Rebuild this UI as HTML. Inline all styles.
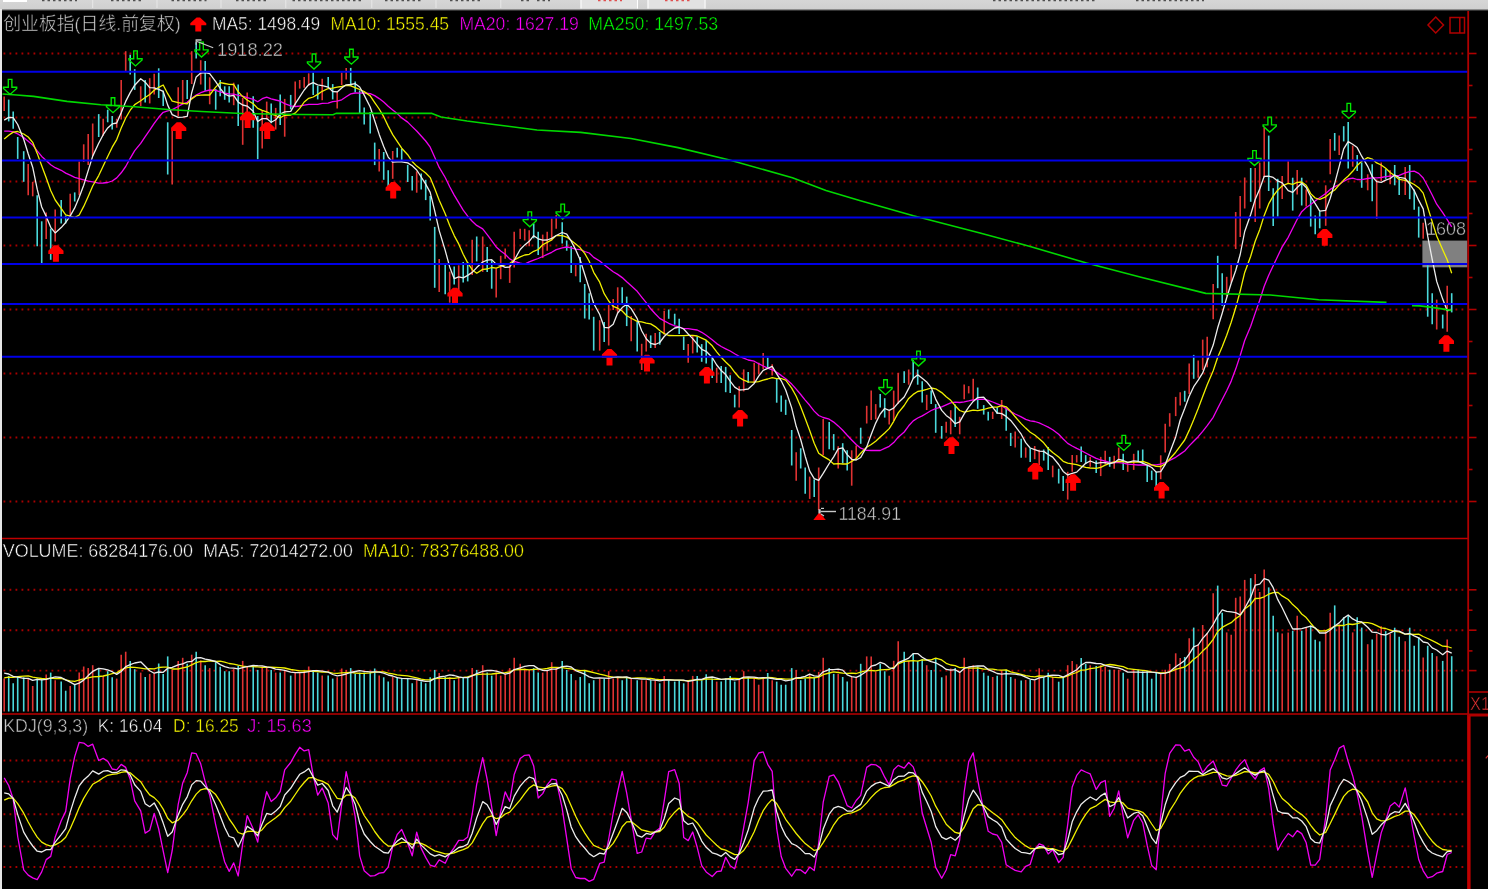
<!DOCTYPE html>
<html><head><meta charset="utf-8"><title>创业板指</title><style>html,body{margin:0;padding:0;background:#000;overflow:hidden}svg{display:block}svg text{stroke:#000;stroke-width:.45px}</style></head><body>
<svg width="1488" height="889" viewBox="0 0 1488 889">
<rect x="0" y="0" width="1488" height="889" fill="#000"/>
<defs><linearGradient id="tb" x1="0" y1="0" x2="0" y2="1"><stop offset="0" stop-color="#d6d6d6"/><stop offset="0.78" stop-color="#d0d0d0"/><stop offset="0.9" stop-color="#707070"/><stop offset="1" stop-color="#000"/></linearGradient></defs>
<rect x="0" y="0" width="1488" height="11" fill="url(#tb)"/>
<rect x="580.5" y="0" width="57.5" height="8.5" fill="#e2e2e2"/><line x1="581" y1="0" x2="581" y2="8.5" stroke="#fff" stroke-width="1"/><line x1="637.5" y1="0" x2="637.5" y2="8.5" stroke="#fff" stroke-width="1"/>
<rect x="647.5" y="0" width="58" height="8.5" fill="#e2e2e2"/><line x1="648" y1="0" x2="648" y2="8.5" stroke="#fff" stroke-width="1"/><line x1="705" y1="0" x2="705" y2="8.5" stroke="#fff" stroke-width="1"/>
<rect x="3" y="0" width="24" height="2" fill="#fff"/>
<line x1="42" y1="0.6" x2="77" y2="0.6" stroke="#505050" stroke-width="1.3" stroke-dasharray="2.5 3"/>
<line x1="111" y1="0.6" x2="141" y2="0.6" stroke="#505050" stroke-width="1.3" stroke-dasharray="2.5 3"/>
<line x1="171.5" y1="0.6" x2="206.5" y2="0.6" stroke="#505050" stroke-width="1.3" stroke-dasharray="2.5 3"/>
<line x1="236" y1="0.6" x2="268" y2="0.6" stroke="#505050" stroke-width="1.3" stroke-dasharray="2.5 3"/>
<line x1="292.5" y1="0.6" x2="362" y2="0.6" stroke="#505050" stroke-width="1.3" stroke-dasharray="2.5 3"/>
<line x1="385" y1="0.6" x2="421.5" y2="0.6" stroke="#505050" stroke-width="1.3" stroke-dasharray="2.5 3"/>
<line x1="450" y1="0.6" x2="483" y2="0.6" stroke="#505050" stroke-width="1.3" stroke-dasharray="2.5 3"/>
<line x1="521" y1="0.6" x2="529" y2="0.6" stroke="#505050" stroke-width="1.3" stroke-dasharray="2.5 3"/>
<line x1="537" y1="0.6" x2="550" y2="0.6" stroke="#505050" stroke-width="1.3" stroke-dasharray="2.5 3"/>
<line x1="993" y1="0.6" x2="1095" y2="0.6" stroke="#505050" stroke-width="1.3" stroke-dasharray="2.5 3"/>
<line x1="1136" y1="0.6" x2="1204" y2="0.6" stroke="#505050" stroke-width="1.3" stroke-dasharray="2.5 3"/>
<line x1="598" y1="0.6" x2="622" y2="0.6" stroke="#e05050" stroke-width="1.3" stroke-dasharray="2.5 3"/>
<line x1="665" y1="0.6" x2="690" y2="0.6" stroke="#e05050" stroke-width="1.3" stroke-dasharray="2.5 3"/>
<line x1="92.7" y1="0" x2="92.7" y2="8" stroke="#e8e8e8" stroke-width="1"/>
<line x1="157" y1="0" x2="157" y2="8" stroke="#e8e8e8" stroke-width="1"/>
<line x1="221" y1="0" x2="221" y2="8" stroke="#e8e8e8" stroke-width="1"/>
<line x1="285.8" y1="0" x2="285.8" y2="8" stroke="#e8e8e8" stroke-width="1"/>
<line x1="371.8" y1="0" x2="371.8" y2="8" stroke="#e8e8e8" stroke-width="1"/>
<line x1="436" y1="0" x2="436" y2="8" stroke="#e8e8e8" stroke-width="1"/>
<line x1="500.8" y1="0" x2="500.8" y2="8" stroke="#e8e8e8" stroke-width="1"/>
<rect x="0" y="9" width="2" height="880" fill="#e6e6e6"/>
<line x1="3.5" y1="53.5" x2="1466" y2="53.5" stroke="#a80000" stroke-width="1.9" stroke-dasharray="1.8 4.2"/>
<line x1="3.5" y1="117.5" x2="1466" y2="117.5" stroke="#a80000" stroke-width="1.9" stroke-dasharray="1.8 4.2"/>
<line x1="3.5" y1="181.5" x2="1466" y2="181.5" stroke="#a80000" stroke-width="1.9" stroke-dasharray="1.8 4.2"/>
<line x1="3.5" y1="245.5" x2="1466" y2="245.5" stroke="#a80000" stroke-width="1.9" stroke-dasharray="1.8 4.2"/>
<line x1="3.5" y1="309.5" x2="1466" y2="309.5" stroke="#a80000" stroke-width="1.9" stroke-dasharray="1.8 4.2"/>
<line x1="3.5" y1="373.5" x2="1466" y2="373.5" stroke="#a80000" stroke-width="1.9" stroke-dasharray="1.8 4.2"/>
<line x1="3.5" y1="437.5" x2="1466" y2="437.5" stroke="#a80000" stroke-width="1.9" stroke-dasharray="1.8 4.2"/>
<line x1="3.5" y1="501.5" x2="1466" y2="501.5" stroke="#a80000" stroke-width="1.9" stroke-dasharray="1.8 4.2"/>
<line x1="3.5" y1="589.8" x2="1466" y2="589.8" stroke="#a80000" stroke-width="1.9" stroke-dasharray="1.8 4.2"/>
<line x1="3.5" y1="630.2" x2="1466" y2="630.2" stroke="#a80000" stroke-width="1.9" stroke-dasharray="1.8 4.2"/>
<line x1="3.5" y1="670.6" x2="1466" y2="670.6" stroke="#a80000" stroke-width="1.9" stroke-dasharray="1.8 4.2"/>
<line x1="3.5" y1="760.5" x2="1466" y2="760.5" stroke="#a80000" stroke-width="1.9" stroke-dasharray="1.8 4.2"/>
<line x1="3.5" y1="781.6" x2="1466" y2="781.6" stroke="#a80000" stroke-width="1.9" stroke-dasharray="1.8 4.2"/>
<line x1="3.5" y1="814.3" x2="1466" y2="814.3" stroke="#a80000" stroke-width="1.9" stroke-dasharray="1.8 4.2"/>
<line x1="3.5" y1="846.4" x2="1466" y2="846.4" stroke="#a80000" stroke-width="1.9" stroke-dasharray="1.8 4.2"/>
<line x1="3.5" y1="867.0" x2="1466" y2="867.0" stroke="#a80000" stroke-width="1.9" stroke-dasharray="1.8 4.2"/>
<rect x="1422.4" y="240.6" width="45" height="26.7" fill="#808080"/>
<text x="1426" y="234.6" fill="#c0c0c0" font-family="Liberation Sans, sans-serif" font-size="18.5" textLength="40" lengthAdjust="spacingAndGlyphs">1608</text>
<line x1="4.20" y1="96.4" x2="4.20" y2="111.0" stroke="#e03232" stroke-width="1.6"/>
<line x1="8.70" y1="99.6" x2="8.70" y2="121.4" stroke="#4ad8da" stroke-width="1.6"/>
<line x1="13.20" y1="111.6" x2="13.20" y2="128.7" stroke="#4ad8da" stroke-width="1.6"/>
<line x1="17.70" y1="137.0" x2="17.70" y2="158.9" stroke="#4ad8da" stroke-width="1.6"/>
<line x1="23.70" y1="151.2" x2="23.70" y2="181.8" stroke="#4ad8da" stroke-width="1.6"/>
<line x1="28.20" y1="164.0" x2="28.20" y2="195.3" stroke="#e03232" stroke-width="1.6"/>
<line x1="32.70" y1="181.8" x2="32.70" y2="196.3" stroke="#e03232" stroke-width="1.6"/>
<line x1="37.20" y1="195.3" x2="37.20" y2="246.3" stroke="#4ad8da" stroke-width="1.6"/>
<line x1="41.70" y1="221.3" x2="41.70" y2="263.0" stroke="#4ad8da" stroke-width="1.6"/>
<line x1="46.20" y1="212.4" x2="46.20" y2="239.0" stroke="#e03232" stroke-width="1.6"/>
<line x1="50.70" y1="228.6" x2="50.70" y2="259.8" stroke="#4ad8da" stroke-width="1.6"/>
<line x1="55.20" y1="209.5" x2="55.20" y2="241.5" stroke="#e03232" stroke-width="1.6"/>
<line x1="61.20" y1="200.0" x2="61.20" y2="223.4" stroke="#4ad8da" stroke-width="1.6"/>
<line x1="65.70" y1="215.7" x2="65.70" y2="223.4" stroke="#4ad8da" stroke-width="1.6"/>
<line x1="70.20" y1="193.8" x2="70.20" y2="216.0" stroke="#e03232" stroke-width="1.6"/>
<line x1="74.70" y1="192.4" x2="74.70" y2="201.5" stroke="#4ad8da" stroke-width="1.6"/>
<line x1="79.20" y1="161.4" x2="79.20" y2="195.3" stroke="#e03232" stroke-width="1.6"/>
<line x1="83.70" y1="144.3" x2="83.70" y2="162.0" stroke="#e03232" stroke-width="1.6"/>
<line x1="88.20" y1="134.0" x2="88.20" y2="165.0" stroke="#e03232" stroke-width="1.6"/>
<line x1="92.70" y1="123.5" x2="92.70" y2="155.8" stroke="#e03232" stroke-width="1.6"/>
<line x1="98.70" y1="114.1" x2="98.70" y2="137.0" stroke="#4ad8da" stroke-width="1.6"/>
<line x1="103.20" y1="118.7" x2="103.20" y2="135.8" stroke="#e03232" stroke-width="1.6"/>
<line x1="107.70" y1="109.7" x2="107.70" y2="122.3" stroke="#4ad8da" stroke-width="1.6"/>
<line x1="112.20" y1="116.0" x2="112.20" y2="129.5" stroke="#4ad8da" stroke-width="1.6"/>
<line x1="116.70" y1="118.7" x2="116.70" y2="127.7" stroke="#e03232" stroke-width="1.6"/>
<line x1="121.20" y1="80.0" x2="121.20" y2="119.6" stroke="#e03232" stroke-width="1.6"/>
<line x1="125.70" y1="51.2" x2="125.70" y2="71.0" stroke="#e03232" stroke-width="1.6"/>
<line x1="130.20" y1="54.8" x2="130.20" y2="74.6" stroke="#4ad8da" stroke-width="1.6"/>
<line x1="134.70" y1="69.2" x2="134.70" y2="89.9" stroke="#4ad8da" stroke-width="1.6"/>
<line x1="140.70" y1="86.3" x2="140.70" y2="106.1" stroke="#e03232" stroke-width="1.6"/>
<line x1="145.20" y1="80.0" x2="145.20" y2="102.5" stroke="#4ad8da" stroke-width="1.6"/>
<line x1="149.70" y1="78.2" x2="149.70" y2="103.4" stroke="#e03232" stroke-width="1.6"/>
<line x1="154.20" y1="73.7" x2="154.20" y2="94.4" stroke="#e03232" stroke-width="1.6"/>
<line x1="158.70" y1="68.3" x2="158.70" y2="98.0" stroke="#4ad8da" stroke-width="1.6"/>
<line x1="163.20" y1="90.8" x2="163.20" y2="106.1" stroke="#4ad8da" stroke-width="1.6"/>
<line x1="167.70" y1="122.3" x2="167.70" y2="174.5" stroke="#4ad8da" stroke-width="1.6"/>
<line x1="172.20" y1="130.4" x2="172.20" y2="184.4" stroke="#e03232" stroke-width="1.6"/>
<line x1="178.20" y1="87.2" x2="178.20" y2="116.0" stroke="#e03232" stroke-width="1.6"/>
<line x1="182.70" y1="80.0" x2="182.70" y2="104.3" stroke="#e03232" stroke-width="1.6"/>
<line x1="187.20" y1="80.0" x2="187.20" y2="98.9" stroke="#4ad8da" stroke-width="1.6"/>
<line x1="191.70" y1="51.2" x2="191.70" y2="84.0" stroke="#e03232" stroke-width="1.6"/>
<line x1="196.20" y1="42.2" x2="196.20" y2="58.4" stroke="#4ad8da" stroke-width="1.6"/>
<line x1="200.70" y1="60.2" x2="200.70" y2="84.5" stroke="#e03232" stroke-width="1.6"/>
<line x1="205.20" y1="61.1" x2="205.20" y2="90.8" stroke="#4ad8da" stroke-width="1.6"/>
<line x1="209.70" y1="77.3" x2="209.70" y2="104.3" stroke="#e03232" stroke-width="1.6"/>
<line x1="215.70" y1="89.0" x2="215.70" y2="109.7" stroke="#4ad8da" stroke-width="1.6"/>
<line x1="220.20" y1="80.0" x2="220.20" y2="96.2" stroke="#4ad8da" stroke-width="1.6"/>
<line x1="224.70" y1="86.3" x2="224.70" y2="99.8" stroke="#4ad8da" stroke-width="1.6"/>
<line x1="229.20" y1="86.3" x2="229.20" y2="102.5" stroke="#4ad8da" stroke-width="1.6"/>
<line x1="233.70" y1="82.7" x2="233.70" y2="105.2" stroke="#e03232" stroke-width="1.6"/>
<line x1="238.20" y1="84.5" x2="238.20" y2="125.9" stroke="#4ad8da" stroke-width="1.6"/>
<line x1="242.70" y1="98.0" x2="242.70" y2="144.8" stroke="#e03232" stroke-width="1.6"/>
<line x1="247.20" y1="92.6" x2="247.20" y2="119.6" stroke="#e03232" stroke-width="1.6"/>
<line x1="253.20" y1="96.2" x2="253.20" y2="127.7" stroke="#4ad8da" stroke-width="1.6"/>
<line x1="257.70" y1="116.0" x2="257.70" y2="159.2" stroke="#4ad8da" stroke-width="1.6"/>
<line x1="262.20" y1="110.6" x2="262.20" y2="148.4" stroke="#e03232" stroke-width="1.6"/>
<line x1="266.70" y1="101.6" x2="266.70" y2="119.6" stroke="#e03232" stroke-width="1.6"/>
<line x1="271.20" y1="103.4" x2="271.20" y2="123.2" stroke="#4ad8da" stroke-width="1.6"/>
<line x1="275.70" y1="107.9" x2="275.70" y2="129.5" stroke="#e03232" stroke-width="1.6"/>
<line x1="280.20" y1="94.4" x2="280.20" y2="125.0" stroke="#4ad8da" stroke-width="1.6"/>
<line x1="284.70" y1="98.9" x2="284.70" y2="136.7" stroke="#e03232" stroke-width="1.6"/>
<line x1="290.70" y1="94.9" x2="290.70" y2="109.3" stroke="#4ad8da" stroke-width="1.6"/>
<line x1="295.20" y1="81.4" x2="295.20" y2="105.7" stroke="#e03232" stroke-width="1.6"/>
<line x1="299.70" y1="80.0" x2="299.70" y2="88.6" stroke="#e03232" stroke-width="1.6"/>
<line x1="304.20" y1="76.9" x2="304.20" y2="87.7" stroke="#e03232" stroke-width="1.6"/>
<line x1="308.70" y1="73.3" x2="308.70" y2="85.9" stroke="#e03232" stroke-width="1.6"/>
<line x1="313.20" y1="72.4" x2="313.20" y2="94.9" stroke="#4ad8da" stroke-width="1.6"/>
<line x1="317.70" y1="85.9" x2="317.70" y2="99.4" stroke="#4ad8da" stroke-width="1.6"/>
<line x1="322.20" y1="78.7" x2="322.20" y2="100.3" stroke="#e03232" stroke-width="1.6"/>
<line x1="328.20" y1="76.9" x2="328.20" y2="87.7" stroke="#4ad8da" stroke-width="1.6"/>
<line x1="332.70" y1="84.1" x2="332.70" y2="99.4" stroke="#4ad8da" stroke-width="1.6"/>
<line x1="337.20" y1="91.3" x2="337.20" y2="108.4" stroke="#e03232" stroke-width="1.6"/>
<line x1="341.70" y1="72.4" x2="341.70" y2="85.0" stroke="#e03232" stroke-width="1.6"/>
<line x1="346.20" y1="67.9" x2="346.20" y2="79.6" stroke="#e03232" stroke-width="1.6"/>
<line x1="350.70" y1="67.9" x2="350.70" y2="85.9" stroke="#4ad8da" stroke-width="1.6"/>
<line x1="355.20" y1="81.4" x2="355.20" y2="92.2" stroke="#4ad8da" stroke-width="1.6"/>
<line x1="359.70" y1="90.4" x2="359.70" y2="113.8" stroke="#4ad8da" stroke-width="1.6"/>
<line x1="364.20" y1="107.5" x2="364.20" y2="124.6" stroke="#4ad8da" stroke-width="1.6"/>
<line x1="370.20" y1="112.0" x2="370.20" y2="133.6" stroke="#4ad8da" stroke-width="1.6"/>
<line x1="374.70" y1="142.6" x2="374.70" y2="165.1" stroke="#4ad8da" stroke-width="1.6"/>
<line x1="379.20" y1="148.9" x2="379.20" y2="171.4" stroke="#e03232" stroke-width="1.6"/>
<line x1="383.70" y1="152.0" x2="383.70" y2="179.8" stroke="#4ad8da" stroke-width="1.6"/>
<line x1="388.20" y1="170.2" x2="388.20" y2="186.3" stroke="#4ad8da" stroke-width="1.6"/>
<line x1="392.70" y1="151.0" x2="392.70" y2="178.8" stroke="#e03232" stroke-width="1.6"/>
<line x1="397.20" y1="147.8" x2="397.20" y2="157.4" stroke="#4ad8da" stroke-width="1.6"/>
<line x1="401.70" y1="148.9" x2="401.70" y2="161.7" stroke="#4ad8da" stroke-width="1.6"/>
<line x1="407.70" y1="164.9" x2="407.70" y2="182.0" stroke="#4ad8da" stroke-width="1.6"/>
<line x1="412.20" y1="176.0" x2="412.20" y2="190.5" stroke="#4ad8da" stroke-width="1.6"/>
<line x1="416.70" y1="171.3" x2="416.70" y2="192.7" stroke="#e03232" stroke-width="1.6"/>
<line x1="421.20" y1="173.4" x2="421.20" y2="189.5" stroke="#4ad8da" stroke-width="1.6"/>
<line x1="425.70" y1="179.8" x2="425.70" y2="200.1" stroke="#4ad8da" stroke-width="1.6"/>
<line x1="430.20" y1="195.9" x2="430.20" y2="220.4" stroke="#4ad8da" stroke-width="1.6"/>
<line x1="434.70" y1="226.9" x2="434.70" y2="287.8" stroke="#4ad8da" stroke-width="1.6"/>
<line x1="439.20" y1="258.9" x2="439.20" y2="292.0" stroke="#e03232" stroke-width="1.6"/>
<line x1="445.20" y1="264.3" x2="445.20" y2="294.2" stroke="#4ad8da" stroke-width="1.6"/>
<line x1="449.70" y1="271.7" x2="449.70" y2="302.7" stroke="#e03232" stroke-width="1.6"/>
<line x1="454.20" y1="266.4" x2="454.20" y2="284.6" stroke="#4ad8da" stroke-width="1.6"/>
<line x1="458.70" y1="265.3" x2="458.70" y2="291.0" stroke="#e03232" stroke-width="1.6"/>
<line x1="463.20" y1="262.1" x2="463.20" y2="282.4" stroke="#4ad8da" stroke-width="1.6"/>
<line x1="467.70" y1="262.1" x2="467.70" y2="281.4" stroke="#4ad8da" stroke-width="1.6"/>
<line x1="472.20" y1="239.7" x2="472.20" y2="275.0" stroke="#e03232" stroke-width="1.6"/>
<line x1="476.70" y1="236.5" x2="476.70" y2="261.4" stroke="#4ad8da" stroke-width="1.6"/>
<line x1="482.70" y1="236.5" x2="482.70" y2="271.9" stroke="#e03232" stroke-width="1.6"/>
<line x1="487.20" y1="247.0" x2="487.20" y2="271.9" stroke="#4ad8da" stroke-width="1.6"/>
<line x1="491.70" y1="260.2" x2="491.70" y2="288.7" stroke="#4ad8da" stroke-width="1.6"/>
<line x1="496.20" y1="268.2" x2="496.20" y2="297.5" stroke="#e03232" stroke-width="1.6"/>
<line x1="500.70" y1="255.8" x2="500.70" y2="279.2" stroke="#e03232" stroke-width="1.6"/>
<line x1="505.20" y1="248.5" x2="505.20" y2="258.7" stroke="#e03232" stroke-width="1.6"/>
<line x1="509.70" y1="263.9" x2="509.70" y2="282.9" stroke="#e03232" stroke-width="1.6"/>
<line x1="514.20" y1="231.7" x2="514.20" y2="267.5" stroke="#e03232" stroke-width="1.6"/>
<line x1="520.20" y1="228.8" x2="520.20" y2="239.0" stroke="#e03232" stroke-width="1.6"/>
<line x1="524.70" y1="228.8" x2="524.70" y2="240.5" stroke="#e03232" stroke-width="1.6"/>
<line x1="529.20" y1="230.2" x2="529.20" y2="246.3" stroke="#e03232" stroke-width="1.6"/>
<line x1="533.70" y1="223.6" x2="533.70" y2="238.3" stroke="#4ad8da" stroke-width="1.6"/>
<line x1="538.20" y1="231.7" x2="538.20" y2="255.1" stroke="#4ad8da" stroke-width="1.6"/>
<line x1="542.70" y1="234.6" x2="542.70" y2="258.0" stroke="#e03232" stroke-width="1.6"/>
<line x1="547.20" y1="231.7" x2="547.20" y2="250.7" stroke="#e03232" stroke-width="1.6"/>
<line x1="551.70" y1="218.5" x2="551.70" y2="240.5" stroke="#e03232" stroke-width="1.6"/>
<line x1="556.20" y1="214.9" x2="556.20" y2="228.8" stroke="#e03232" stroke-width="1.6"/>
<line x1="562.20" y1="222.2" x2="562.20" y2="243.4" stroke="#4ad8da" stroke-width="1.6"/>
<line x1="566.70" y1="240.5" x2="566.70" y2="250.7" stroke="#4ad8da" stroke-width="1.6"/>
<line x1="571.20" y1="246.0" x2="571.20" y2="273.0" stroke="#4ad8da" stroke-width="1.6"/>
<line x1="575.70" y1="264.5" x2="575.70" y2="276.3" stroke="#e03232" stroke-width="1.6"/>
<line x1="580.20" y1="257.0" x2="580.20" y2="282.2" stroke="#4ad8da" stroke-width="1.6"/>
<line x1="584.70" y1="284.0" x2="584.70" y2="318.5" stroke="#4ad8da" stroke-width="1.6"/>
<line x1="589.20" y1="293.2" x2="589.20" y2="319.4" stroke="#4ad8da" stroke-width="1.6"/>
<line x1="593.70" y1="316.8" x2="593.70" y2="350.6" stroke="#4ad8da" stroke-width="1.6"/>
<line x1="599.70" y1="320.2" x2="599.70" y2="350.6" stroke="#e03232" stroke-width="1.6"/>
<line x1="604.20" y1="321.9" x2="604.20" y2="342.1" stroke="#4ad8da" stroke-width="1.6"/>
<line x1="608.70" y1="305.0" x2="608.70" y2="345.5" stroke="#e03232" stroke-width="1.6"/>
<line x1="613.20" y1="299.1" x2="613.20" y2="310.0" stroke="#e03232" stroke-width="1.6"/>
<line x1="617.70" y1="287.3" x2="617.70" y2="312.6" stroke="#e03232" stroke-width="1.6"/>
<line x1="622.20" y1="287.3" x2="622.20" y2="304.2" stroke="#4ad8da" stroke-width="1.6"/>
<line x1="626.70" y1="296.6" x2="626.70" y2="326.1" stroke="#4ad8da" stroke-width="1.6"/>
<line x1="631.20" y1="316.0" x2="631.20" y2="341.3" stroke="#e03232" stroke-width="1.6"/>
<line x1="637.20" y1="321.9" x2="637.20" y2="351.4" stroke="#4ad8da" stroke-width="1.6"/>
<line x1="641.70" y1="343.8" x2="641.70" y2="370.0" stroke="#e03232" stroke-width="1.6"/>
<line x1="646.20" y1="333.7" x2="646.20" y2="351.4" stroke="#e03232" stroke-width="1.6"/>
<line x1="650.70" y1="335.4" x2="650.70" y2="348.0" stroke="#4ad8da" stroke-width="1.6"/>
<line x1="655.20" y1="332.9" x2="655.20" y2="348.0" stroke="#e03232" stroke-width="1.6"/>
<line x1="659.70" y1="332.0" x2="659.70" y2="344.7" stroke="#4ad8da" stroke-width="1.6"/>
<line x1="664.20" y1="310.9" x2="664.20" y2="334.5" stroke="#e03232" stroke-width="1.6"/>
<line x1="668.70" y1="309.5" x2="668.70" y2="318.8" stroke="#4ad8da" stroke-width="1.6"/>
<line x1="674.70" y1="313.7" x2="674.70" y2="324.7" stroke="#4ad8da" stroke-width="1.6"/>
<line x1="679.20" y1="318.8" x2="679.20" y2="334.0" stroke="#4ad8da" stroke-width="1.6"/>
<line x1="683.70" y1="336.5" x2="683.70" y2="350.0" stroke="#4ad8da" stroke-width="1.6"/>
<line x1="688.20" y1="344.1" x2="688.20" y2="362.7" stroke="#e03232" stroke-width="1.6"/>
<line x1="692.70" y1="335.7" x2="692.70" y2="353.4" stroke="#e03232" stroke-width="1.6"/>
<line x1="697.20" y1="336.5" x2="697.20" y2="352.5" stroke="#4ad8da" stroke-width="1.6"/>
<line x1="701.70" y1="344.1" x2="701.70" y2="361.8" stroke="#4ad8da" stroke-width="1.6"/>
<line x1="706.20" y1="339.9" x2="706.20" y2="363.5" stroke="#4ad8da" stroke-width="1.6"/>
<line x1="712.20" y1="355.9" x2="712.20" y2="377.9" stroke="#4ad8da" stroke-width="1.6"/>
<line x1="716.70" y1="367.7" x2="716.70" y2="382.9" stroke="#e03232" stroke-width="1.6"/>
<line x1="721.20" y1="366.0" x2="721.20" y2="382.9" stroke="#4ad8da" stroke-width="1.6"/>
<line x1="725.70" y1="366.9" x2="725.70" y2="392.2" stroke="#4ad8da" stroke-width="1.6"/>
<line x1="730.20" y1="375.3" x2="730.20" y2="393.0" stroke="#4ad8da" stroke-width="1.6"/>
<line x1="734.70" y1="394.7" x2="734.70" y2="407.4" stroke="#4ad8da" stroke-width="1.6"/>
<line x1="739.20" y1="386.3" x2="739.20" y2="407.4" stroke="#e03232" stroke-width="1.6"/>
<line x1="743.70" y1="369.4" x2="743.70" y2="391.4" stroke="#e03232" stroke-width="1.6"/>
<line x1="748.20" y1="372.0" x2="748.20" y2="382.9" stroke="#4ad8da" stroke-width="1.6"/>
<line x1="754.20" y1="362.7" x2="754.20" y2="382.9" stroke="#e03232" stroke-width="1.6"/>
<line x1="758.70" y1="362.7" x2="758.70" y2="374.5" stroke="#e03232" stroke-width="1.6"/>
<line x1="763.20" y1="353.1" x2="763.20" y2="369.3" stroke="#e03232" stroke-width="1.6"/>
<line x1="767.70" y1="357.6" x2="767.70" y2="368.3" stroke="#4ad8da" stroke-width="1.6"/>
<line x1="772.20" y1="364.2" x2="772.20" y2="375.4" stroke="#e03232" stroke-width="1.6"/>
<line x1="776.70" y1="378.4" x2="776.70" y2="402.7" stroke="#4ad8da" stroke-width="1.6"/>
<line x1="781.20" y1="395.6" x2="781.20" y2="411.8" stroke="#4ad8da" stroke-width="1.6"/>
<line x1="785.70" y1="399.7" x2="785.70" y2="414.9" stroke="#4ad8da" stroke-width="1.6"/>
<line x1="791.70" y1="430.0" x2="791.70" y2="465.5" stroke="#4ad8da" stroke-width="1.6"/>
<line x1="796.20" y1="452.3" x2="796.20" y2="480.7" stroke="#e03232" stroke-width="1.6"/>
<line x1="800.70" y1="448.3" x2="800.70" y2="468.5" stroke="#4ad8da" stroke-width="1.6"/>
<line x1="805.20" y1="467.5" x2="805.20" y2="493.8" stroke="#4ad8da" stroke-width="1.6"/>
<line x1="809.70" y1="476.6" x2="809.70" y2="498.9" stroke="#e03232" stroke-width="1.6"/>
<line x1="814.20" y1="479.6" x2="814.20" y2="496.9" stroke="#4ad8da" stroke-width="1.6"/>
<line x1="818.70" y1="467.5" x2="818.70" y2="510.0" stroke="#e03232" stroke-width="1.6"/>
<line x1="823.20" y1="418.9" x2="823.20" y2="455.3" stroke="#e03232" stroke-width="1.6"/>
<line x1="829.20" y1="421.9" x2="829.20" y2="449.3" stroke="#4ad8da" stroke-width="1.6"/>
<line x1="833.70" y1="434.1" x2="833.70" y2="450.3" stroke="#4ad8da" stroke-width="1.6"/>
<line x1="838.20" y1="446.2" x2="838.20" y2="468.5" stroke="#e03232" stroke-width="1.6"/>
<line x1="842.70" y1="443.2" x2="842.70" y2="463.4" stroke="#4ad8da" stroke-width="1.6"/>
<line x1="847.20" y1="450.3" x2="847.20" y2="470.5" stroke="#4ad8da" stroke-width="1.6"/>
<line x1="851.70" y1="450.3" x2="851.70" y2="485.7" stroke="#e03232" stroke-width="1.6"/>
<line x1="856.20" y1="445.4" x2="856.20" y2="459.0" stroke="#e03232" stroke-width="1.6"/>
<line x1="860.70" y1="427.7" x2="860.70" y2="443.8" stroke="#4ad8da" stroke-width="1.6"/>
<line x1="866.70" y1="405.8" x2="866.70" y2="423.5" stroke="#e03232" stroke-width="1.6"/>
<line x1="871.20" y1="390.6" x2="871.20" y2="420.1" stroke="#e03232" stroke-width="1.6"/>
<line x1="875.70" y1="404.1" x2="875.70" y2="419.3" stroke="#e03232" stroke-width="1.6"/>
<line x1="880.20" y1="394.0" x2="880.20" y2="407.5" stroke="#4ad8da" stroke-width="1.6"/>
<line x1="884.70" y1="398.2" x2="884.70" y2="417.6" stroke="#4ad8da" stroke-width="1.6"/>
<line x1="889.20" y1="410.9" x2="889.20" y2="424.4" stroke="#e03232" stroke-width="1.6"/>
<line x1="893.70" y1="390.6" x2="893.70" y2="421.0" stroke="#e03232" stroke-width="1.6"/>
<line x1="898.20" y1="372.9" x2="898.20" y2="404.1" stroke="#e03232" stroke-width="1.6"/>
<line x1="904.20" y1="371.2" x2="904.20" y2="383.0" stroke="#4ad8da" stroke-width="1.6"/>
<line x1="908.70" y1="369.5" x2="908.70" y2="384.7" stroke="#e03232" stroke-width="1.6"/>
<line x1="913.20" y1="360.2" x2="913.20" y2="378.8" stroke="#4ad8da" stroke-width="1.6"/>
<line x1="917.70" y1="369.5" x2="917.70" y2="384.7" stroke="#4ad8da" stroke-width="1.6"/>
<line x1="922.20" y1="381.3" x2="922.20" y2="402.4" stroke="#4ad8da" stroke-width="1.6"/>
<line x1="926.70" y1="394.8" x2="926.70" y2="410.0" stroke="#e03232" stroke-width="1.6"/>
<line x1="931.20" y1="390.6" x2="931.20" y2="404.1" stroke="#4ad8da" stroke-width="1.6"/>
<line x1="935.70" y1="404.1" x2="935.70" y2="432.8" stroke="#4ad8da" stroke-width="1.6"/>
<line x1="941.70" y1="426.0" x2="941.70" y2="438.7" stroke="#4ad8da" stroke-width="1.6"/>
<line x1="946.20" y1="421.8" x2="946.20" y2="432.8" stroke="#e03232" stroke-width="1.6"/>
<line x1="950.70" y1="410.2" x2="950.70" y2="434.3" stroke="#e03232" stroke-width="1.6"/>
<line x1="955.20" y1="404.4" x2="955.20" y2="427.0" stroke="#4ad8da" stroke-width="1.6"/>
<line x1="959.70" y1="416.8" x2="959.70" y2="434.3" stroke="#e03232" stroke-width="1.6"/>
<line x1="964.20" y1="384.6" x2="964.20" y2="399.2" stroke="#e03232" stroke-width="1.6"/>
<line x1="968.70" y1="386.1" x2="968.70" y2="393.4" stroke="#e03232" stroke-width="1.6"/>
<line x1="973.20" y1="378.8" x2="973.20" y2="400.7" stroke="#e03232" stroke-width="1.6"/>
<line x1="977.70" y1="387.5" x2="977.70" y2="408.8" stroke="#4ad8da" stroke-width="1.6"/>
<line x1="983.70" y1="405.1" x2="983.70" y2="414.6" stroke="#4ad8da" stroke-width="1.6"/>
<line x1="988.20" y1="411.7" x2="988.20" y2="420.5" stroke="#4ad8da" stroke-width="1.6"/>
<line x1="992.70" y1="411.7" x2="992.70" y2="419.0" stroke="#e03232" stroke-width="1.6"/>
<line x1="997.20" y1="407.3" x2="997.20" y2="413.9" stroke="#4ad8da" stroke-width="1.6"/>
<line x1="1001.70" y1="400.0" x2="1001.70" y2="419.0" stroke="#e03232" stroke-width="1.6"/>
<line x1="1006.20" y1="408.8" x2="1006.20" y2="430.7" stroke="#4ad8da" stroke-width="1.6"/>
<line x1="1010.70" y1="432.9" x2="1010.70" y2="446.0" stroke="#4ad8da" stroke-width="1.6"/>
<line x1="1015.20" y1="431.4" x2="1015.20" y2="447.5" stroke="#e03232" stroke-width="1.6"/>
<line x1="1021.20" y1="438.7" x2="1021.20" y2="457.7" stroke="#4ad8da" stroke-width="1.6"/>
<line x1="1025.70" y1="447.5" x2="1025.70" y2="457.7" stroke="#e03232" stroke-width="1.6"/>
<line x1="1030.20" y1="448.2" x2="1030.20" y2="462.1" stroke="#4ad8da" stroke-width="1.6"/>
<line x1="1034.70" y1="446.0" x2="1034.70" y2="459.2" stroke="#e03232" stroke-width="1.6"/>
<line x1="1039.20" y1="449.7" x2="1039.20" y2="465.1" stroke="#e03232" stroke-width="1.6"/>
<line x1="1043.70" y1="449.5" x2="1043.70" y2="460.6" stroke="#4ad8da" stroke-width="1.6"/>
<line x1="1048.20" y1="447.0" x2="1048.20" y2="469.9" stroke="#4ad8da" stroke-width="1.6"/>
<line x1="1052.70" y1="465.6" x2="1052.70" y2="477.3" stroke="#e03232" stroke-width="1.6"/>
<line x1="1058.70" y1="468.7" x2="1058.70" y2="483.5" stroke="#4ad8da" stroke-width="1.6"/>
<line x1="1063.20" y1="476.1" x2="1063.20" y2="490.9" stroke="#4ad8da" stroke-width="1.6"/>
<line x1="1067.70" y1="471.8" x2="1067.70" y2="499.6" stroke="#e03232" stroke-width="1.6"/>
<line x1="1072.20" y1="455.1" x2="1072.20" y2="471.8" stroke="#e03232" stroke-width="1.6"/>
<line x1="1076.70" y1="455.1" x2="1076.70" y2="462.5" stroke="#e03232" stroke-width="1.6"/>
<line x1="1081.20" y1="446.4" x2="1081.20" y2="461.9" stroke="#4ad8da" stroke-width="1.6"/>
<line x1="1085.70" y1="455.1" x2="1085.70" y2="463.7" stroke="#4ad8da" stroke-width="1.6"/>
<line x1="1090.20" y1="456.9" x2="1090.20" y2="466.8" stroke="#e03232" stroke-width="1.6"/>
<line x1="1096.20" y1="460.6" x2="1096.20" y2="473.0" stroke="#4ad8da" stroke-width="1.6"/>
<line x1="1100.70" y1="456.9" x2="1100.70" y2="476.1" stroke="#e03232" stroke-width="1.6"/>
<line x1="1105.20" y1="450.7" x2="1105.20" y2="464.3" stroke="#e03232" stroke-width="1.6"/>
<line x1="1109.70" y1="456.9" x2="1109.70" y2="466.8" stroke="#4ad8da" stroke-width="1.6"/>
<line x1="1114.20" y1="455.7" x2="1114.20" y2="468.7" stroke="#e03232" stroke-width="1.6"/>
<line x1="1118.70" y1="447.6" x2="1118.70" y2="460.6" stroke="#e03232" stroke-width="1.6"/>
<line x1="1123.20" y1="453.8" x2="1123.20" y2="469.9" stroke="#4ad8da" stroke-width="1.6"/>
<line x1="1127.70" y1="463.1" x2="1127.70" y2="471.8" stroke="#e03232" stroke-width="1.6"/>
<line x1="1133.70" y1="453.8" x2="1133.70" y2="469.9" stroke="#e03232" stroke-width="1.6"/>
<line x1="1138.20" y1="450.5" x2="1138.20" y2="462.0" stroke="#4ad8da" stroke-width="1.6"/>
<line x1="1142.70" y1="449.5" x2="1142.70" y2="463.9" stroke="#4ad8da" stroke-width="1.6"/>
<line x1="1147.20" y1="465.8" x2="1147.20" y2="482.0" stroke="#4ad8da" stroke-width="1.6"/>
<line x1="1151.70" y1="470.6" x2="1151.70" y2="480.1" stroke="#4ad8da" stroke-width="1.6"/>
<line x1="1156.20" y1="471.5" x2="1156.20" y2="486.8" stroke="#4ad8da" stroke-width="1.6"/>
<line x1="1160.70" y1="455.3" x2="1160.70" y2="479.2" stroke="#e03232" stroke-width="1.6"/>
<line x1="1165.20" y1="423.7" x2="1165.20" y2="452.4" stroke="#e03232" stroke-width="1.6"/>
<line x1="1169.70" y1="413.2" x2="1169.70" y2="426.6" stroke="#e03232" stroke-width="1.6"/>
<line x1="1175.70" y1="396.9" x2="1175.70" y2="416.1" stroke="#e03232" stroke-width="1.6"/>
<line x1="1180.20" y1="392.2" x2="1180.20" y2="405.5" stroke="#e03232" stroke-width="1.6"/>
<line x1="1184.70" y1="390.8" x2="1184.70" y2="401.7" stroke="#4ad8da" stroke-width="1.6"/>
<line x1="1189.20" y1="363.5" x2="1189.20" y2="394.1" stroke="#e03232" stroke-width="1.6"/>
<line x1="1193.70" y1="354.9" x2="1193.70" y2="378.8" stroke="#4ad8da" stroke-width="1.6"/>
<line x1="1198.20" y1="360.6" x2="1198.20" y2="377.8" stroke="#e03232" stroke-width="1.6"/>
<line x1="1202.70" y1="339.6" x2="1202.70" y2="370.2" stroke="#e03232" stroke-width="1.6"/>
<line x1="1207.20" y1="336.7" x2="1207.20" y2="367.3" stroke="#e03232" stroke-width="1.6"/>
<line x1="1213.20" y1="284.1" x2="1213.20" y2="319.2" stroke="#e03232" stroke-width="1.6"/>
<line x1="1217.70" y1="255.8" x2="1217.70" y2="288.2" stroke="#4ad8da" stroke-width="1.6"/>
<line x1="1222.20" y1="273.3" x2="1222.20" y2="305.7" stroke="#4ad8da" stroke-width="1.6"/>
<line x1="1226.70" y1="276.8" x2="1226.70" y2="296.3" stroke="#e03232" stroke-width="1.6"/>
<line x1="1231.20" y1="263.9" x2="1231.20" y2="282.8" stroke="#e03232" stroke-width="1.6"/>
<line x1="1235.70" y1="212.0" x2="1235.70" y2="249.0" stroke="#e03232" stroke-width="1.6"/>
<line x1="1240.20" y1="195.9" x2="1240.20" y2="236.9" stroke="#e03232" stroke-width="1.6"/>
<line x1="1244.70" y1="177.5" x2="1244.70" y2="208.5" stroke="#e03232" stroke-width="1.6"/>
<line x1="1250.70" y1="168.0" x2="1250.70" y2="201.8" stroke="#4ad8da" stroke-width="1.6"/>
<line x1="1255.20" y1="168.0" x2="1255.20" y2="222.0" stroke="#e03232" stroke-width="1.6"/>
<line x1="1259.70" y1="162.6" x2="1259.70" y2="208.5" stroke="#e03232" stroke-width="1.6"/>
<line x1="1264.20" y1="127.5" x2="1264.20" y2="177.5" stroke="#e03232" stroke-width="1.6"/>
<line x1="1268.70" y1="135.6" x2="1268.70" y2="191.0" stroke="#4ad8da" stroke-width="1.6"/>
<line x1="1273.20" y1="188.3" x2="1273.20" y2="226.1" stroke="#4ad8da" stroke-width="1.6"/>
<line x1="1277.70" y1="178.8" x2="1277.70" y2="216.6" stroke="#4ad8da" stroke-width="1.6"/>
<line x1="1282.20" y1="176.1" x2="1282.20" y2="199.1" stroke="#e03232" stroke-width="1.6"/>
<line x1="1288.20" y1="161.3" x2="1288.20" y2="182.9" stroke="#e03232" stroke-width="1.6"/>
<line x1="1292.70" y1="177.7" x2="1292.70" y2="210.6" stroke="#4ad8da" stroke-width="1.6"/>
<line x1="1297.20" y1="170.1" x2="1297.20" y2="194.5" stroke="#e03232" stroke-width="1.6"/>
<line x1="1301.70" y1="177.7" x2="1301.70" y2="205.5" stroke="#4ad8da" stroke-width="1.6"/>
<line x1="1306.20" y1="189.5" x2="1306.20" y2="206.4" stroke="#e03232" stroke-width="1.6"/>
<line x1="1310.70" y1="196.2" x2="1310.70" y2="226.6" stroke="#4ad8da" stroke-width="1.6"/>
<line x1="1315.20" y1="215.6" x2="1315.20" y2="234.2" stroke="#4ad8da" stroke-width="1.6"/>
<line x1="1319.70" y1="211.4" x2="1319.70" y2="228.3" stroke="#4ad8da" stroke-width="1.6"/>
<line x1="1325.70" y1="185.3" x2="1325.70" y2="225.8" stroke="#e03232" stroke-width="1.6"/>
<line x1="1330.20" y1="138.9" x2="1330.20" y2="174.3" stroke="#e03232" stroke-width="1.6"/>
<line x1="1334.70" y1="133.0" x2="1334.70" y2="150.7" stroke="#4ad8da" stroke-width="1.6"/>
<line x1="1339.20" y1="135.5" x2="1339.20" y2="154.9" stroke="#e03232" stroke-width="1.6"/>
<line x1="1343.70" y1="126.2" x2="1343.70" y2="141.4" stroke="#4ad8da" stroke-width="1.6"/>
<line x1="1348.20" y1="122.0" x2="1348.20" y2="168.4" stroke="#4ad8da" stroke-width="1.6"/>
<line x1="1352.70" y1="145.6" x2="1352.70" y2="166.7" stroke="#e03232" stroke-width="1.6"/>
<line x1="1357.20" y1="154.9" x2="1357.20" y2="170.9" stroke="#4ad8da" stroke-width="1.6"/>
<line x1="1361.70" y1="162.5" x2="1361.70" y2="187.8" stroke="#4ad8da" stroke-width="1.6"/>
<line x1="1367.70" y1="174.3" x2="1367.70" y2="190.3" stroke="#e03232" stroke-width="1.6"/>
<line x1="1372.20" y1="164.2" x2="1372.20" y2="201.3" stroke="#4ad8da" stroke-width="1.6"/>
<line x1="1376.70" y1="179.4" x2="1376.70" y2="219.0" stroke="#e03232" stroke-width="1.6"/>
<line x1="1381.20" y1="162.5" x2="1381.20" y2="181.1" stroke="#e03232" stroke-width="1.6"/>
<line x1="1385.70" y1="169.2" x2="1385.70" y2="178.9" stroke="#4ad8da" stroke-width="1.6"/>
<line x1="1390.20" y1="170.3" x2="1390.20" y2="184.2" stroke="#e03232" stroke-width="1.6"/>
<line x1="1394.70" y1="165.0" x2="1394.70" y2="185.3" stroke="#4ad8da" stroke-width="1.6"/>
<line x1="1399.20" y1="177.8" x2="1399.20" y2="194.9" stroke="#4ad8da" stroke-width="1.6"/>
<line x1="1405.20" y1="167.1" x2="1405.20" y2="194.9" stroke="#e03232" stroke-width="1.6"/>
<line x1="1409.70" y1="165.0" x2="1409.70" y2="199.2" stroke="#4ad8da" stroke-width="1.6"/>
<line x1="1414.20" y1="189.5" x2="1414.20" y2="209.8" stroke="#4ad8da" stroke-width="1.6"/>
<line x1="1418.70" y1="206.6" x2="1418.70" y2="237.6" stroke="#4ad8da" stroke-width="1.6"/>
<line x1="1423.20" y1="222.7" x2="1423.20" y2="238.7" stroke="#e03232" stroke-width="1.6"/>
<line x1="1427.70" y1="265.4" x2="1427.70" y2="316.7" stroke="#4ad8da" stroke-width="1.6"/>
<line x1="1432.20" y1="293.2" x2="1432.20" y2="324.2" stroke="#4ad8da" stroke-width="1.6"/>
<line x1="1436.70" y1="299.6" x2="1436.70" y2="329.5" stroke="#e03232" stroke-width="1.6"/>
<line x1="1442.70" y1="314.6" x2="1442.70" y2="328.5" stroke="#4ad8da" stroke-width="1.6"/>
<line x1="1447.20" y1="285.7" x2="1447.20" y2="331.7" stroke="#e03232" stroke-width="1.6"/>
<line x1="1451.70" y1="293.2" x2="1451.70" y2="312.4" stroke="#4ad8da" stroke-width="1.6"/>
<polyline points="4.2,131.1 8.7,131.2 13.2,131.8 17.7,133.9 23.7,137.5 28.2,141.2 32.7,145.0 37.2,150.9 41.7,156.4 46.2,160.6 50.7,164.8 55.2,167.7 61.2,170.3 65.7,173.1 70.2,175.1 74.7,177.3 79.2,178.7 83.7,179.9 88.2,181.2 92.7,181.9 98.7,183.1 103.2,183.0 107.7,182.5 112.2,181.0 116.7,177.9 121.2,172.8 125.7,166.5 130.2,158.3 134.7,150.6 140.7,143.4 145.2,136.6 149.7,130.2 154.2,123.4 158.7,117.3 163.2,112.3 167.7,110.9 172.2,109.6 178.2,106.5 182.7,103.9 187.2,102.3 191.7,98.2 196.2,95.1 200.7,92.7 205.2,91.1 209.7,90.0 215.7,90.4 220.2,91.8 224.7,93.1 229.2,93.8 233.7,94.2 238.2,95.4 242.7,96.2 247.2,97.6 253.2,99.3 257.7,101.7 262.2,98.7 266.7,97.2 271.2,98.8 275.7,100.0 280.2,101.2 284.7,103.6 290.7,105.8 295.2,106.6 299.7,106.0 304.2,105.2 308.7,104.4 313.2,104.4 317.7,104.3 322.2,103.4 328.2,103.2 332.7,101.7 337.2,101.1 341.7,99.8 346.2,96.8 350.7,93.9 355.2,93.0 359.7,93.2 364.2,93.0 370.2,93.6 374.7,95.6 379.2,98.6 383.7,102.0 388.2,106.3 392.7,109.9 397.2,113.6 401.7,117.9 407.7,122.1 412.2,126.6 416.7,131.0 421.2,136.0 425.7,141.0 430.2,147.2 434.7,157.2 439.2,167.4 445.2,177.5 449.7,186.8 454.2,195.1 458.7,202.7 463.2,210.2 467.7,216.2 472.2,221.3 476.7,225.4 482.7,228.9 487.2,234.7 491.7,240.6 496.2,246.9 500.7,251.0 505.2,254.3 509.7,258.9 514.2,261.4 520.2,263.2 524.7,264.1 529.2,261.9 533.7,260.2 538.2,258.5 542.7,256.5 547.2,254.4 551.7,252.3 556.2,249.6 562.2,247.8 566.7,247.0 571.2,247.8 575.7,249.2 580.2,249.6 584.7,251.5 589.2,253.0 593.7,257.4 599.7,261.0 604.2,264.7 608.7,268.3 613.2,271.7 617.7,274.4 622.2,277.6 626.7,281.8 631.2,285.8 637.2,291.3 641.7,297.1 646.2,302.7 650.7,308.8 655.2,313.8 659.7,318.4 664.2,320.9 668.7,323.3 674.7,325.8 679.2,327.0 683.7,328.6 688.2,328.6 692.7,329.3 697.2,330.0 701.7,332.3 706.2,335.3 712.2,339.7 716.7,343.6 721.2,346.5 725.7,348.8 730.2,351.0 734.7,353.8 739.2,356.4 743.7,358.1 748.2,360.0 754.2,361.2 758.7,363.7 763.2,366.0 767.7,368.1 772.2,369.8 776.7,372.4 781.2,375.4 785.7,378.8 791.7,384.1 796.2,389.1 800.7,394.5 805.2,400.1 809.7,405.3 814.2,411.1 818.7,415.5 823.2,417.5 829.2,419.2 833.7,422.1 838.2,425.9 842.7,430.2 847.2,435.3 851.7,440.0 856.2,444.5 860.7,448.2 866.7,450.3 871.2,450.5 875.7,450.5 880.2,450.5 884.7,448.4 889.2,446.3 893.7,442.6 898.2,437.2 904.2,432.0 908.7,425.8 913.2,420.9 917.7,418.0 922.2,415.9 926.7,413.2 931.2,410.5 935.7,408.7 941.7,406.9 946.2,404.9 950.7,402.9 955.2,402.1 959.7,402.5 964.2,401.8 968.7,400.9 973.2,399.8 977.7,399.3 983.7,399.2 988.2,400.3 992.7,402.0 997.2,403.8 1001.7,405.6 1006.2,408.6 1010.7,411.7 1015.2,414.0 1021.2,416.9 1025.7,419.4 1030.2,420.8 1034.7,421.5 1039.2,422.9 1043.7,425.0 1048.2,427.1 1052.7,429.7 1058.7,434.2 1063.2,439.0 1067.7,443.4 1072.2,446.0 1076.7,448.4 1081.2,450.5 1085.7,453.0 1090.2,455.4 1096.2,458.4 1100.7,460.0 1105.2,461.1 1109.7,462.3 1114.2,462.5 1118.7,462.6 1123.2,463.1 1127.7,464.2 1133.7,464.7 1138.2,465.0 1142.7,464.8 1147.2,465.2 1151.7,465.0 1156.2,464.9 1160.7,464.2 1165.2,462.6 1169.7,460.3 1175.7,457.3 1180.2,454.1 1184.7,451.0 1189.2,445.9 1193.7,441.3 1198.2,436.7 1202.7,431.4 1207.2,425.6 1213.2,417.3 1217.7,408.2 1222.2,399.5 1226.7,390.7 1231.2,381.1 1235.7,369.1 1240.2,355.5 1244.7,340.5 1250.7,326.3 1255.2,313.1 1259.7,300.2 1264.2,286.3 1268.7,275.3 1273.2,265.7 1277.7,256.2 1282.2,246.9 1288.2,237.3 1292.7,228.3 1297.2,219.3 1301.7,211.7 1306.2,207.5 1310.7,204.5 1315.2,200.9 1319.7,197.7 1325.7,193.5 1330.2,189.4 1334.7,186.7 1339.2,184.6 1343.7,181.3 1348.2,179.0 1352.7,178.2 1357.2,179.5 1361.7,179.6 1367.7,178.5 1372.2,177.9 1376.7,177.9 1381.2,177.5 1385.7,176.6 1390.2,176.2 1394.7,175.9 1399.2,175.3 1405.2,172.9 1409.7,171.7 1414.2,171.1 1418.7,173.4 1423.2,178.0 1427.7,186.2 1432.2,195.0 1436.7,204.2 1442.7,212.7 1447.2,219.6 1451.7,226.8" fill="none" stroke="#f000f0" stroke-width="1.3" stroke-linejoin="round" />
<polyline points="4.2,139.1 8.7,135.3 13.2,132.1 17.7,131.5 23.7,134.0 28.2,137.0 32.7,142.3 37.2,153.4 41.7,165.8 46.2,177.8 50.7,190.5 55.2,200.0 61.2,208.4 65.7,214.8 70.2,216.2 74.7,217.6 79.2,215.0 83.7,206.4 88.2,196.5 92.7,186.0 98.7,175.6 103.2,165.9 107.7,156.5 112.2,147.2 116.7,139.6 121.2,128.0 125.7,118.0 130.2,110.2 134.7,104.6 140.7,100.8 145.2,97.5 149.7,94.5 154.2,90.3 158.7,87.3 163.2,85.0 167.7,93.7 172.2,101.1 178.2,102.7 182.7,103.3 187.2,103.8 191.7,98.9 196.2,95.7 200.7,95.2 205.2,94.9 209.7,95.0 215.7,87.1 220.2,82.6 224.7,83.5 229.2,84.4 233.7,84.5 238.2,91.8 242.7,96.6 247.2,100.0 253.2,103.7 257.7,108.4 262.2,110.4 266.7,111.8 271.2,114.2 275.7,115.5 280.2,117.8 284.7,115.3 290.7,115.0 295.2,113.1 299.7,108.4 304.2,102.0 308.7,98.3 313.2,97.0 317.7,94.4 322.2,91.3 328.2,88.5 332.7,88.1 337.2,87.2 341.7,86.5 346.2,85.3 350.7,85.8 355.2,87.6 359.7,89.5 364.2,91.6 370.2,95.9 374.7,102.6 379.2,109.0 383.7,116.7 388.2,126.1 392.7,134.6 397.2,141.4 401.7,148.2 407.7,154.7 412.2,161.5 416.7,166.1 421.2,169.5 425.7,173.0 430.2,177.6 434.7,188.4 439.2,200.3 445.2,213.7 449.7,225.5 454.2,235.6 458.7,243.9 463.2,254.2 467.7,262.9 472.2,269.7 476.7,273.2 482.7,269.4 487.2,269.0 491.7,267.5 496.2,268.2 500.7,266.4 505.2,264.6 509.7,263.6 514.2,259.9 520.2,256.8 524.7,255.0 529.2,254.3 533.7,251.3 538.2,249.5 542.7,244.8 547.2,242.4 551.7,239.9 556.2,235.6 562.2,235.7 566.7,237.1 571.2,240.6 575.7,244.1 580.2,247.8 584.7,253.4 589.2,261.2 593.7,272.3 599.7,282.2 604.2,293.7 608.7,301.0 613.2,306.3 617.7,308.2 622.2,311.0 626.7,315.8 631.2,318.2 637.2,321.4 641.7,321.9 646.2,323.2 650.7,323.9 655.2,326.6 659.7,330.5 664.2,333.6 668.7,335.5 674.7,335.7 679.2,335.7 683.7,335.7 688.2,335.3 692.7,335.4 697.2,336.0 701.7,338.1 706.2,340.2 712.2,345.8 716.7,351.8 721.2,357.3 725.7,362.0 730.2,366.2 734.7,372.3 739.2,377.5 743.7,380.1 748.2,381.8 754.2,382.2 758.7,381.6 763.2,380.1 767.7,379.0 772.2,377.6 776.7,378.6 781.2,378.5 785.7,380.2 791.7,388.1 796.2,396.3 800.7,406.7 805.2,418.5 809.7,430.5 814.2,443.3 818.7,453.3 823.2,456.4 829.2,459.9 833.7,464.0 838.2,463.7 842.7,464.0 847.2,464.0 851.7,461.4 856.2,458.5 860.7,453.2 866.7,447.3 871.2,444.5 875.7,441.2 880.2,437.0 884.7,433.0 889.2,428.6 893.7,421.3 898.2,412.9 904.2,405.5 908.7,398.4 913.2,394.4 917.7,391.5 922.2,390.6 926.7,389.4 931.2,388.0 935.7,388.8 941.7,392.6 946.2,396.8 950.7,400.3 955.2,405.7 959.7,410.5 964.2,412.1 968.7,411.2 973.2,410.1 977.7,410.6 983.7,409.5 988.2,408.1 992.7,407.2 997.2,407.2 1001.7,405.6 1006.2,406.8 1010.7,411.3 1015.2,416.8 1021.2,423.6 1025.7,428.1 1030.2,432.2 1034.7,435.0 1039.2,438.7 1043.7,442.8 1048.2,448.5 1052.7,452.5 1058.7,457.1 1063.2,461.3 1067.7,463.1 1072.2,463.9 1076.7,464.6 1081.2,466.1 1085.7,467.3 1090.2,468.0 1096.2,468.3 1100.7,467.4 1105.2,465.1 1109.7,463.4 1114.2,461.9 1118.7,461.3 1123.2,461.6 1127.7,462.4 1133.7,462.1 1138.2,462.0 1142.7,461.3 1147.2,462.9 1151.7,464.9 1156.2,466.4 1160.7,466.5 1165.2,463.9 1169.7,459.0 1175.7,452.2 1180.2,446.1 1184.7,440.0 1189.2,430.4 1193.7,419.8 1198.2,408.5 1202.7,396.4 1207.2,384.8 1213.2,370.7 1217.7,357.3 1222.2,346.7 1226.7,335.3 1231.2,322.2 1235.7,307.8 1240.2,291.1 1244.7,272.4 1250.7,256.2 1255.2,241.3 1259.7,229.7 1264.2,215.4 1268.7,203.9 1273.2,196.0 1277.7,190.2 1282.2,185.9 1288.2,183.4 1292.7,184.3 1297.2,182.4 1301.7,182.0 1306.2,185.2 1310.7,193.6 1315.2,198.0 1319.7,199.3 1325.7,196.8 1330.2,192.9 1334.7,190.0 1339.2,184.9 1343.7,180.1 1348.2,176.0 1352.7,171.3 1357.2,165.4 1361.7,161.3 1367.7,157.6 1372.2,159.1 1376.7,162.9 1381.2,165.0 1385.7,168.2 1390.2,172.4 1394.7,175.8 1399.2,179.4 1405.2,180.4 1409.7,182.2 1414.2,184.5 1418.7,187.7 1423.2,193.1 1427.7,207.3 1432.2,221.8 1436.7,236.0 1442.7,249.7 1447.2,259.8 1451.7,273.2" fill="none" stroke="#f0f000" stroke-width="1.3" stroke-linejoin="round" />
<polyline points="4.2,120.1 8.7,117.4 13.2,117.6 17.7,124.5 23.7,139.2 28.2,153.8 32.7,167.2 37.2,189.2 41.7,207.0 46.2,216.4 50.7,227.3 55.2,232.9 61.2,227.6 65.7,222.5 70.2,215.9 74.7,207.9 79.2,197.2 83.7,185.2 88.2,170.6 92.7,156.1 98.7,143.3 103.2,134.7 107.7,127.9 112.2,123.9 116.7,123.0 121.2,112.7 125.7,101.4 130.2,92.6 134.7,85.2 140.7,78.7 145.2,82.2 149.7,87.6 154.2,87.9 158.7,89.4 163.2,91.4 167.7,105.1 172.2,114.6 178.2,117.4 182.7,117.1 187.2,116.3 191.7,92.7 196.2,76.9 200.7,73.0 205.2,72.6 209.7,73.7 215.7,81.6 220.2,88.3 224.7,94.0 229.2,96.2 233.7,95.4 238.2,102.1 242.7,105.0 247.2,106.1 253.2,111.3 257.7,121.5 262.2,118.6 266.7,118.6 271.2,122.3 275.7,119.8 280.2,114.1 284.7,111.9 290.7,111.4 295.2,103.9 299.7,96.9 304.2,90.0 308.7,84.7 313.2,82.6 317.7,84.8 322.2,85.7 328.2,87.1 332.7,91.5 337.2,91.9 341.7,88.1 346.2,84.8 350.7,84.5 355.2,83.7 359.7,87.0 364.2,95.1 370.2,107.0 374.7,120.8 379.2,134.4 383.7,146.4 388.2,157.1 392.7,162.2 397.2,161.9 401.7,161.9 407.7,162.9 412.2,165.8 416.7,170.0 421.2,177.0 425.7,184.1 430.2,192.4 434.7,210.9 439.2,230.6 445.2,250.4 449.7,266.9 454.2,278.7 458.7,276.9 463.2,277.9 467.7,275.4 472.2,272.4 476.7,267.6 482.7,262.0 487.2,260.2 491.7,259.6 496.2,264.1 500.7,265.2 505.2,267.3 509.7,267.0 514.2,260.3 520.2,249.5 524.7,244.9 529.2,241.3 533.7,235.7 538.2,238.8 542.7,240.1 547.2,240.0 551.7,238.4 556.2,235.5 562.2,232.5 566.7,234.1 571.2,241.1 575.7,249.8 580.2,260.0 584.7,274.3 589.2,288.4 593.7,303.5 599.7,314.5 604.2,327.3 608.7,327.8 613.2,324.3 617.7,313.0 622.2,307.6 626.7,304.3 631.2,308.6 637.2,318.6 641.7,330.8 646.2,338.8 650.7,343.4 655.2,344.5 659.7,342.5 664.2,336.5 668.7,332.3 674.7,328.0 679.2,327.0 683.7,329.0 688.2,334.0 692.7,338.6 697.2,344.1 701.7,349.3 706.2,351.3 712.2,357.5 716.7,365.0 721.2,370.5 725.7,374.6 730.2,381.1 734.7,387.1 739.2,390.0 743.7,389.6 748.2,389.0 754.2,383.4 758.7,376.2 763.2,370.3 767.7,368.3 772.2,366.3 776.7,373.8 781.2,380.8 785.7,390.0 791.7,407.9 796.2,426.3 800.7,439.5 805.2,456.2 809.7,471.1 814.2,478.6 818.7,480.3 823.2,473.4 829.2,463.5 833.7,456.9 838.2,448.9 842.7,447.8 847.2,454.6 851.7,459.3 856.2,460.0 860.7,457.5 866.7,446.9 871.2,434.5 875.7,423.1 880.2,414.0 884.7,408.5 889.2,410.3 893.7,408.1 898.2,402.8 904.2,397.0 908.7,388.4 913.2,378.4 917.7,374.8 922.2,378.3 926.7,381.9 931.2,387.6 935.7,399.1 941.7,410.4 946.2,415.4 950.7,418.8 955.2,423.7 959.7,421.9 964.2,413.9 968.7,407.1 973.2,401.4 977.7,397.6 983.7,397.2 988.2,402.2 992.7,407.3 997.2,413.0 1001.7,413.6 1006.2,416.4 1010.7,420.4 1015.2,426.2 1021.2,434.2 1025.7,442.6 1030.2,448.0 1034.7,449.6 1039.2,451.1 1043.7,451.4 1048.2,454.5 1052.7,457.1 1058.7,464.5 1063.2,471.4 1067.7,474.9 1072.2,473.3 1076.7,472.1 1081.2,467.7 1085.7,463.3 1090.2,461.0 1096.2,463.3 1100.7,462.7 1105.2,462.6 1109.7,463.5 1114.2,462.7 1118.7,459.3 1123.2,460.5 1127.7,462.3 1133.7,460.8 1138.2,461.4 1142.7,463.2 1147.2,465.2 1151.7,467.5 1156.2,472.1 1160.7,471.6 1165.2,464.7 1169.7,452.8 1175.7,436.9 1180.2,420.0 1184.7,408.5 1189.2,396.2 1193.7,386.7 1198.2,380.2 1202.7,372.9 1207.2,361.0 1213.2,345.1 1217.7,327.8 1222.2,313.3 1226.7,297.8 1231.2,283.3 1235.7,270.5 1240.2,254.5 1244.7,231.5 1250.7,214.5 1255.2,199.4 1259.7,189.0 1264.2,176.3 1268.7,176.2 1273.2,177.4 1277.7,180.9 1282.2,182.8 1288.2,190.6 1292.7,192.4 1297.2,187.5 1301.7,183.2 1306.2,187.5 1310.7,196.7 1315.2,203.6 1319.7,211.2 1325.7,210.4 1330.2,198.2 1334.7,183.3 1339.2,166.3 1343.7,148.9 1348.2,141.6 1352.7,144.3 1357.2,147.6 1361.7,156.2 1367.7,166.3 1372.2,176.5 1376.7,181.6 1381.2,182.4 1385.7,180.1 1390.2,178.5 1394.7,175.0 1399.2,177.3 1405.2,178.4 1409.7,184.2 1414.2,190.6 1418.7,200.4 1423.2,208.9 1427.7,236.2 1432.2,259.4 1436.7,281.4 1442.7,299.1 1447.2,310.7 1451.7,310.2" fill="none" stroke="#ececec" stroke-width="1.3" stroke-linejoin="round" />
<polyline points="2.5,94.0 16.8,95.0 33.6,96.4 67.0,101.4 100.8,104.8 134.4,106.8 168.0,109.5 201.6,111.5 242.0,113.5 300.0,114.5 333.0,114.8 336.0,113.4 432.0,113.4 441.0,117.0 467.0,121.0 490.0,124.0 537.0,130.0 580.7,132.4 631.0,138.5 678.0,147.6 728.6,159.7 792.4,177.8 826.0,190.6 859.6,200.6 913.4,215.8 980.0,233.0 1028.4,246.0 1086.5,263.0 1141.0,277.3 1205.8,293.4 1270.3,295.0 1318.7,299.8 1386.5,302.4" fill="none" stroke="#00d800" stroke-width="1.6" stroke-linejoin="round" />
<polyline points="1412.0,305.6 1420.0,305.9 1432.0,307.4 1442.0,308.9 1451.5,310.4" fill="none" stroke="#00d800" stroke-width="1.6" stroke-linejoin="round" />
<polygon points="53.9,245.2 57.9,245.2 63.5,250.7 63.5,254.0 58.9,254.0 58.9,261.8 52.9,261.8 52.9,254.0 48.3,254.0 48.3,250.7" fill="#ff0000"/>
<polygon points="176.7,122.3 180.7,122.3 186.3,127.8 186.3,131.1 181.7,131.1 181.7,138.9 175.7,138.9 175.7,131.1 171.1,131.1 171.1,127.8" fill="#ff0000"/>
<polygon points="245.6,111.5 249.6,111.5 255.2,117.0 255.2,120.3 250.6,120.3 250.6,128.1 244.6,128.1 244.6,120.3 240.0,120.3 240.0,117.0" fill="#ff0000"/>
<polygon points="265.2,122.3 269.2,122.3 274.8,127.8 274.8,131.1 270.2,131.1 270.2,138.9 264.2,138.9 264.2,131.1 259.6,131.1 259.6,127.8" fill="#ff0000"/>
<polygon points="391.2,182.0 395.2,182.0 400.8,187.5 400.8,190.8 396.2,190.8 396.2,198.6 390.2,198.6 390.2,190.8 385.6,190.8 385.6,187.5" fill="#ff0000"/>
<polygon points="453.0,287.8 457.0,287.8 462.6,293.3 462.6,296.6 458.0,296.6 458.0,304.4 452.0,304.4 452.0,296.6 447.4,296.6 447.4,293.3" fill="#ff0000"/>
<polygon points="607.5,348.9 611.5,348.9 617.1,354.4 617.1,357.7 612.5,357.7 612.5,365.5 606.5,365.5 606.5,357.7 601.9,357.7 601.9,354.4" fill="#ff0000"/>
<polygon points="645.0,354.8 649.0,354.8 654.6,360.3 654.6,363.6 650.0,363.6 650.0,371.4 644.0,371.4 644.0,363.6 639.4,363.6 639.4,360.3" fill="#ff0000"/>
<polygon points="704.9,366.9 708.9,366.9 714.5,372.4 714.5,375.7 709.9,375.7 709.9,383.5 703.9,383.5 703.9,375.7 699.3,375.7 699.3,372.4" fill="#ff0000"/>
<polygon points="738.1,409.9 742.1,409.9 747.7,415.4 747.7,418.7 743.1,418.7 743.1,426.5 737.1,426.5 737.1,418.7 732.5,418.7 732.5,415.4" fill="#ff0000"/>
<polygon points="949.5,437.3 953.5,437.3 959.1,442.8 959.1,446.1 954.5,446.1 954.5,453.9 948.5,453.9 948.5,446.1 943.9,446.1 943.9,442.8" fill="#ff0000"/>
<polygon points="1033.3,462.9 1037.3,462.9 1042.9,468.4 1042.9,471.7 1038.3,471.7 1038.3,479.5 1032.3,479.5 1032.3,471.7 1027.7,471.7 1027.7,468.4" fill="#ff0000"/>
<polygon points="1071.1,474.2 1075.1,474.2 1080.7,479.7 1080.7,483.0 1076.1,483.0 1076.1,490.8 1070.1,490.8 1070.1,483.0 1065.5,483.0 1065.5,479.7" fill="#ff0000"/>
<polygon points="1159.6,482.0 1163.6,482.0 1169.2,487.5 1169.2,490.8 1164.6,490.8 1164.6,498.6 1158.6,498.6 1158.6,490.8 1154.0,490.8 1154.0,487.5" fill="#ff0000"/>
<polygon points="1322.8,229.1 1326.8,229.1 1332.4,234.6 1332.4,237.9 1327.8,237.9 1327.8,245.7 1321.8,245.7 1321.8,237.9 1317.2,237.9 1317.2,234.6" fill="#ff0000"/>
<polygon points="1444.4,335.2 1448.4,335.2 1454.0,340.7 1454.0,344.0 1449.4,344.0 1449.4,351.8 1443.4,351.8 1443.4,344.0 1438.8,344.0 1438.8,340.7" fill="#ff0000"/>
<polygon points="8.3,79.4 11.9,79.4 11.9,87.2 16.7,87.2 16.7,88.4 10.1,94.4 3.5,88.4 3.5,87.2 8.3,87.2" fill="none" stroke="#00e800" stroke-width="1.35" stroke-linejoin="miter"/>
<polygon points="111.2,97.7 114.8,97.7 114.8,105.5 119.6,105.5 119.6,106.7 113.0,112.7 106.4,106.7 106.4,105.5 111.2,105.5" fill="none" stroke="#00e800" stroke-width="1.35" stroke-linejoin="miter"/>
<polygon points="133.7,50.9 137.3,50.9 137.3,58.7 142.1,58.7 142.1,59.9 135.5,65.9 128.9,59.9 128.9,58.7 133.7,58.7" fill="none" stroke="#00e800" stroke-width="1.35" stroke-linejoin="miter"/>
<polygon points="199.7,42.1 203.3,42.1 203.3,49.9 208.1,49.9 208.1,51.1 201.5,57.1 194.9,51.1 194.9,49.9 199.7,49.9" fill="none" stroke="#00e800" stroke-width="1.35" stroke-linejoin="miter"/>
<polygon points="312.2,54.0 315.8,54.0 315.8,61.8 320.6,61.8 320.6,63.0 314.0,69.0 307.4,63.0 307.4,61.8 312.2,61.8" fill="none" stroke="#00e800" stroke-width="1.35" stroke-linejoin="miter"/>
<polygon points="349.6,49.2 353.2,49.2 353.2,57.0 358.0,57.0 358.0,58.2 351.4,64.2 344.8,58.2 344.8,57.0 349.6,57.0" fill="none" stroke="#00e800" stroke-width="1.35" stroke-linejoin="miter"/>
<polygon points="528.0,211.8 531.6,211.8 531.6,219.6 536.4,219.6 536.4,220.8 529.8,226.8 523.2,220.8 523.2,219.6 528.0,219.6" fill="none" stroke="#00e800" stroke-width="1.35" stroke-linejoin="miter"/>
<polygon points="560.9,204.1 564.5,204.1 564.5,211.9 569.3,211.9 569.3,213.1 562.7,219.1 556.1,213.1 556.1,211.9 560.9,211.9" fill="none" stroke="#00e800" stroke-width="1.35" stroke-linejoin="miter"/>
<polygon points="883.7,379.7 887.3,379.7 887.3,387.5 892.1,387.5 892.1,388.7 885.5,394.7 878.9,388.7 878.9,387.5 883.7,387.5" fill="none" stroke="#00e800" stroke-width="1.35" stroke-linejoin="miter"/>
<polygon points="916.7,351.1 920.3,351.1 920.3,358.9 925.1,358.9 925.1,360.1 918.5,366.1 911.9,360.1 911.9,358.9 916.7,358.9" fill="none" stroke="#00e800" stroke-width="1.35" stroke-linejoin="miter"/>
<polygon points="1122.0,435.4 1125.6,435.4 1125.6,443.2 1130.4,443.2 1130.4,444.4 1123.8,450.4 1117.2,444.4 1117.2,443.2 1122.0,443.2" fill="none" stroke="#00e800" stroke-width="1.35" stroke-linejoin="miter"/>
<polygon points="1252.7,150.6 1256.3,150.6 1256.3,158.4 1261.1,158.4 1261.1,159.6 1254.5,165.6 1247.9,159.6 1247.9,158.4 1252.7,158.4" fill="none" stroke="#00e800" stroke-width="1.35" stroke-linejoin="miter"/>
<polygon points="1267.9,117.1 1271.5,117.1 1271.5,124.9 1276.3,124.9 1276.3,126.1 1269.7,132.1 1263.1,126.1 1263.1,124.9 1267.9,124.9" fill="none" stroke="#00e800" stroke-width="1.35" stroke-linejoin="miter"/>
<polygon points="1347.0,103.4 1350.6,103.4 1350.6,111.2 1355.4,111.2 1355.4,112.4 1348.8,118.4 1342.2,112.4 1342.2,111.2 1347.0,111.2" fill="none" stroke="#00e800" stroke-width="1.35" stroke-linejoin="miter"/>
<line x1="2" y1="71.8" x2="1467.5" y2="71.8" stroke="#0000e8" stroke-width="2"/>
<line x1="2" y1="160.4" x2="1467.5" y2="160.4" stroke="#0000e8" stroke-width="2"/>
<line x1="2" y1="217.5" x2="1467.5" y2="217.5" stroke="#0000e8" stroke-width="2"/>
<line x1="2" y1="264.0" x2="1467.5" y2="264.0" stroke="#0000e8" stroke-width="2"/>
<line x1="2" y1="304.0" x2="1467.5" y2="304.0" stroke="#0000e8" stroke-width="2"/>
<line x1="2" y1="356.8" x2="1467.5" y2="356.8" stroke="#0000e8" stroke-width="2"/>
<text x="217" y="56" fill="#c8c8c8" font-family="Liberation Sans, sans-serif" font-size="18.5" textLength="66" lengthAdjust="spacingAndGlyphs">1918.22</text>
<polyline points="201.5,40 196.2,40 196.2,44.8" fill="none" stroke="#c8c8c8" stroke-width="1.3"/><line x1="197" y1="41.5" x2="213.2" y2="47.8" stroke="#c8c8c8" stroke-width="1.2"/>
<text x="838.5" y="520" fill="#c8c8c8" font-family="Liberation Sans, sans-serif" font-size="18.5" textLength="62.5" lengthAdjust="spacingAndGlyphs">1184.91</text>
<polygon points="819.4,512.2 825.8,520 813.3,520" fill="#ff0000"/>
<rect x="818.4" y="509.2" width="2.3" height="4.3" fill="#c8c8c8"/><line x1="820.5" y1="511.5" x2="836" y2="511.5" stroke="#c8c8c8" stroke-width="1.4"/><line x1="821" y1="508.4" x2="824" y2="508.4" stroke="#c8c8c8" stroke-width="1.2"/><line x1="821" y1="514" x2="824" y2="516" stroke="#c8c8c8" stroke-width="1.2"/>
<line x1="2" y1="538.5" x2="1488" y2="538.5" stroke="#c00000" stroke-width="1.6"/>
<line x1="2" y1="714" x2="1488" y2="714" stroke="#8c0000" stroke-width="2"/>
<line x1="4.20" y1="678.6" x2="4.20" y2="711.5" stroke="#e03232" stroke-width="1.6"/>
<line x1="8.70" y1="675.9" x2="8.70" y2="711.5" stroke="#4ad8da" stroke-width="1.6"/>
<line x1="13.20" y1="683.3" x2="13.20" y2="711.5" stroke="#4ad8da" stroke-width="1.6"/>
<line x1="17.70" y1="676.6" x2="17.70" y2="711.5" stroke="#4ad8da" stroke-width="1.6"/>
<line x1="23.70" y1="677.3" x2="23.70" y2="711.5" stroke="#4ad8da" stroke-width="1.6"/>
<line x1="28.20" y1="678.6" x2="28.20" y2="711.5" stroke="#e03232" stroke-width="1.6"/>
<line x1="32.70" y1="686.0" x2="32.70" y2="711.5" stroke="#e03232" stroke-width="1.6"/>
<line x1="37.20" y1="678.6" x2="37.20" y2="711.5" stroke="#4ad8da" stroke-width="1.6"/>
<line x1="41.70" y1="678.6" x2="41.70" y2="711.5" stroke="#4ad8da" stroke-width="1.6"/>
<line x1="46.20" y1="674.6" x2="46.20" y2="711.5" stroke="#e03232" stroke-width="1.6"/>
<line x1="50.70" y1="672.6" x2="50.70" y2="711.5" stroke="#4ad8da" stroke-width="1.6"/>
<line x1="55.20" y1="680.2" x2="55.20" y2="711.5" stroke="#e03232" stroke-width="1.6"/>
<line x1="61.20" y1="681.6" x2="61.20" y2="711.5" stroke="#4ad8da" stroke-width="1.6"/>
<line x1="65.70" y1="690.7" x2="65.70" y2="711.5" stroke="#4ad8da" stroke-width="1.6"/>
<line x1="70.20" y1="686.0" x2="70.20" y2="711.5" stroke="#e03232" stroke-width="1.6"/>
<line x1="74.70" y1="684.7" x2="74.70" y2="711.5" stroke="#4ad8da" stroke-width="1.6"/>
<line x1="79.20" y1="672.6" x2="79.20" y2="711.5" stroke="#e03232" stroke-width="1.6"/>
<line x1="83.70" y1="666.5" x2="83.70" y2="711.5" stroke="#e03232" stroke-width="1.6"/>
<line x1="88.20" y1="668.1" x2="88.20" y2="711.5" stroke="#e03232" stroke-width="1.6"/>
<line x1="92.70" y1="665.2" x2="92.70" y2="711.5" stroke="#e03232" stroke-width="1.6"/>
<line x1="98.70" y1="668.9" x2="98.70" y2="711.5" stroke="#4ad8da" stroke-width="1.6"/>
<line x1="103.20" y1="675.9" x2="103.20" y2="711.5" stroke="#e03232" stroke-width="1.6"/>
<line x1="107.70" y1="671.2" x2="107.70" y2="711.5" stroke="#4ad8da" stroke-width="1.6"/>
<line x1="112.20" y1="677.3" x2="112.20" y2="711.5" stroke="#4ad8da" stroke-width="1.6"/>
<line x1="116.70" y1="678.6" x2="116.70" y2="711.5" stroke="#e03232" stroke-width="1.6"/>
<line x1="121.20" y1="654.7" x2="121.20" y2="711.5" stroke="#e03232" stroke-width="1.6"/>
<line x1="125.70" y1="651.7" x2="125.70" y2="711.5" stroke="#e03232" stroke-width="1.6"/>
<line x1="130.20" y1="660.9" x2="130.20" y2="711.5" stroke="#4ad8da" stroke-width="1.6"/>
<line x1="134.70" y1="669.2" x2="134.70" y2="711.5" stroke="#4ad8da" stroke-width="1.6"/>
<line x1="140.70" y1="672.6" x2="140.70" y2="711.5" stroke="#e03232" stroke-width="1.6"/>
<line x1="145.20" y1="677.0" x2="145.20" y2="711.5" stroke="#4ad8da" stroke-width="1.6"/>
<line x1="149.70" y1="673.9" x2="149.70" y2="711.5" stroke="#e03232" stroke-width="1.6"/>
<line x1="154.20" y1="673.2" x2="154.20" y2="711.5" stroke="#e03232" stroke-width="1.6"/>
<line x1="158.70" y1="663.5" x2="158.70" y2="711.5" stroke="#4ad8da" stroke-width="1.6"/>
<line x1="163.20" y1="673.9" x2="163.20" y2="711.5" stroke="#4ad8da" stroke-width="1.6"/>
<line x1="167.70" y1="656.4" x2="167.70" y2="711.5" stroke="#4ad8da" stroke-width="1.6"/>
<line x1="172.20" y1="669.9" x2="172.20" y2="711.5" stroke="#e03232" stroke-width="1.6"/>
<line x1="178.20" y1="660.9" x2="178.20" y2="711.5" stroke="#e03232" stroke-width="1.6"/>
<line x1="182.70" y1="657.8" x2="182.70" y2="711.5" stroke="#e03232" stroke-width="1.6"/>
<line x1="187.20" y1="663.8" x2="187.20" y2="711.5" stroke="#4ad8da" stroke-width="1.6"/>
<line x1="191.70" y1="654.7" x2="191.70" y2="711.5" stroke="#e03232" stroke-width="1.6"/>
<line x1="196.20" y1="651.7" x2="196.20" y2="711.5" stroke="#4ad8da" stroke-width="1.6"/>
<line x1="200.70" y1="660.5" x2="200.70" y2="711.5" stroke="#e03232" stroke-width="1.6"/>
<line x1="205.20" y1="665.2" x2="205.20" y2="711.5" stroke="#4ad8da" stroke-width="1.6"/>
<line x1="209.70" y1="668.1" x2="209.70" y2="711.5" stroke="#e03232" stroke-width="1.6"/>
<line x1="215.70" y1="662.2" x2="215.70" y2="711.5" stroke="#4ad8da" stroke-width="1.6"/>
<line x1="220.20" y1="666.8" x2="220.20" y2="711.5" stroke="#4ad8da" stroke-width="1.6"/>
<line x1="224.70" y1="671.2" x2="224.70" y2="711.5" stroke="#4ad8da" stroke-width="1.6"/>
<line x1="229.20" y1="671.2" x2="229.20" y2="711.5" stroke="#4ad8da" stroke-width="1.6"/>
<line x1="233.70" y1="668.9" x2="233.70" y2="711.5" stroke="#e03232" stroke-width="1.6"/>
<line x1="238.20" y1="665.8" x2="238.20" y2="711.5" stroke="#4ad8da" stroke-width="1.6"/>
<line x1="242.70" y1="660.9" x2="242.70" y2="711.5" stroke="#e03232" stroke-width="1.6"/>
<line x1="247.20" y1="666.5" x2="247.20" y2="711.5" stroke="#e03232" stroke-width="1.6"/>
<line x1="253.20" y1="665.2" x2="253.20" y2="711.5" stroke="#4ad8da" stroke-width="1.6"/>
<line x1="257.70" y1="669.9" x2="257.70" y2="711.5" stroke="#4ad8da" stroke-width="1.6"/>
<line x1="262.20" y1="666.5" x2="262.20" y2="711.5" stroke="#e03232" stroke-width="1.6"/>
<line x1="266.70" y1="666.5" x2="266.70" y2="711.5" stroke="#e03232" stroke-width="1.6"/>
<line x1="271.20" y1="669.9" x2="271.20" y2="711.5" stroke="#4ad8da" stroke-width="1.6"/>
<line x1="275.70" y1="672.6" x2="275.70" y2="711.5" stroke="#e03232" stroke-width="1.6"/>
<line x1="280.20" y1="672.6" x2="280.20" y2="711.5" stroke="#4ad8da" stroke-width="1.6"/>
<line x1="284.70" y1="669.9" x2="284.70" y2="711.5" stroke="#e03232" stroke-width="1.6"/>
<line x1="290.70" y1="675.6" x2="290.70" y2="711.5" stroke="#4ad8da" stroke-width="1.6"/>
<line x1="295.20" y1="672.6" x2="295.20" y2="711.5" stroke="#e03232" stroke-width="1.6"/>
<line x1="299.70" y1="672.6" x2="299.70" y2="711.5" stroke="#e03232" stroke-width="1.6"/>
<line x1="304.20" y1="671.2" x2="304.20" y2="711.5" stroke="#e03232" stroke-width="1.6"/>
<line x1="308.70" y1="666.5" x2="308.70" y2="711.5" stroke="#e03232" stroke-width="1.6"/>
<line x1="313.20" y1="670.3" x2="313.20" y2="711.5" stroke="#4ad8da" stroke-width="1.6"/>
<line x1="317.70" y1="672.6" x2="317.70" y2="711.5" stroke="#4ad8da" stroke-width="1.6"/>
<line x1="322.20" y1="675.6" x2="322.20" y2="711.5" stroke="#e03232" stroke-width="1.6"/>
<line x1="328.20" y1="675.6" x2="328.20" y2="711.5" stroke="#4ad8da" stroke-width="1.6"/>
<line x1="332.70" y1="678.6" x2="332.70" y2="711.5" stroke="#4ad8da" stroke-width="1.6"/>
<line x1="337.20" y1="677.3" x2="337.20" y2="711.5" stroke="#e03232" stroke-width="1.6"/>
<line x1="341.70" y1="668.5" x2="341.70" y2="711.5" stroke="#e03232" stroke-width="1.6"/>
<line x1="346.20" y1="669.9" x2="346.20" y2="711.5" stroke="#e03232" stroke-width="1.6"/>
<line x1="350.70" y1="668.1" x2="350.70" y2="711.5" stroke="#4ad8da" stroke-width="1.6"/>
<line x1="355.20" y1="673.9" x2="355.20" y2="711.5" stroke="#4ad8da" stroke-width="1.6"/>
<line x1="359.70" y1="672.6" x2="359.70" y2="711.5" stroke="#4ad8da" stroke-width="1.6"/>
<line x1="364.20" y1="672.6" x2="364.20" y2="711.5" stroke="#4ad8da" stroke-width="1.6"/>
<line x1="370.20" y1="671.9" x2="370.20" y2="711.5" stroke="#4ad8da" stroke-width="1.6"/>
<line x1="374.70" y1="668.5" x2="374.70" y2="711.5" stroke="#4ad8da" stroke-width="1.6"/>
<line x1="379.20" y1="675.6" x2="379.20" y2="711.5" stroke="#e03232" stroke-width="1.6"/>
<line x1="383.70" y1="677.3" x2="383.70" y2="711.5" stroke="#4ad8da" stroke-width="1.6"/>
<line x1="388.20" y1="681.6" x2="388.20" y2="711.5" stroke="#4ad8da" stroke-width="1.6"/>
<line x1="392.70" y1="677.0" x2="392.70" y2="711.5" stroke="#e03232" stroke-width="1.6"/>
<line x1="397.20" y1="677.0" x2="397.20" y2="711.5" stroke="#4ad8da" stroke-width="1.6"/>
<line x1="401.70" y1="678.6" x2="401.70" y2="711.5" stroke="#4ad8da" stroke-width="1.6"/>
<line x1="407.70" y1="678.6" x2="407.70" y2="711.5" stroke="#4ad8da" stroke-width="1.6"/>
<line x1="412.20" y1="683.3" x2="412.20" y2="711.5" stroke="#4ad8da" stroke-width="1.6"/>
<line x1="416.70" y1="680.2" x2="416.70" y2="711.5" stroke="#e03232" stroke-width="1.6"/>
<line x1="421.20" y1="681.6" x2="421.20" y2="711.5" stroke="#4ad8da" stroke-width="1.6"/>
<line x1="425.70" y1="683.3" x2="425.70" y2="711.5" stroke="#4ad8da" stroke-width="1.6"/>
<line x1="430.20" y1="677.3" x2="430.20" y2="711.5" stroke="#4ad8da" stroke-width="1.6"/>
<line x1="434.70" y1="669.9" x2="434.70" y2="711.5" stroke="#4ad8da" stroke-width="1.6"/>
<line x1="439.20" y1="673.0" x2="439.20" y2="711.5" stroke="#e03232" stroke-width="1.6"/>
<line x1="445.20" y1="677.0" x2="445.20" y2="711.5" stroke="#4ad8da" stroke-width="1.6"/>
<line x1="449.70" y1="677.3" x2="449.70" y2="711.5" stroke="#e03232" stroke-width="1.6"/>
<line x1="454.20" y1="680.2" x2="454.20" y2="711.5" stroke="#4ad8da" stroke-width="1.6"/>
<line x1="458.70" y1="677.0" x2="458.70" y2="711.5" stroke="#e03232" stroke-width="1.6"/>
<line x1="463.20" y1="677.0" x2="463.20" y2="711.5" stroke="#4ad8da" stroke-width="1.6"/>
<line x1="467.70" y1="676.6" x2="467.70" y2="711.5" stroke="#4ad8da" stroke-width="1.6"/>
<line x1="472.20" y1="668.1" x2="472.20" y2="711.5" stroke="#e03232" stroke-width="1.6"/>
<line x1="476.70" y1="669.9" x2="476.70" y2="711.5" stroke="#4ad8da" stroke-width="1.6"/>
<line x1="482.70" y1="665.2" x2="482.70" y2="711.5" stroke="#e03232" stroke-width="1.6"/>
<line x1="487.20" y1="672.6" x2="487.20" y2="711.5" stroke="#4ad8da" stroke-width="1.6"/>
<line x1="491.70" y1="675.6" x2="491.70" y2="711.5" stroke="#4ad8da" stroke-width="1.6"/>
<line x1="496.20" y1="672.6" x2="496.20" y2="711.5" stroke="#e03232" stroke-width="1.6"/>
<line x1="500.70" y1="675.6" x2="500.70" y2="711.5" stroke="#e03232" stroke-width="1.6"/>
<line x1="505.20" y1="673.9" x2="505.20" y2="711.5" stroke="#e03232" stroke-width="1.6"/>
<line x1="509.70" y1="668.1" x2="509.70" y2="711.5" stroke="#e03232" stroke-width="1.6"/>
<line x1="514.20" y1="657.8" x2="514.20" y2="711.5" stroke="#e03232" stroke-width="1.6"/>
<line x1="520.20" y1="663.8" x2="520.20" y2="711.5" stroke="#e03232" stroke-width="1.6"/>
<line x1="524.70" y1="668.5" x2="524.70" y2="711.5" stroke="#e03232" stroke-width="1.6"/>
<line x1="529.20" y1="669.9" x2="529.20" y2="711.5" stroke="#e03232" stroke-width="1.6"/>
<line x1="533.70" y1="668.1" x2="533.70" y2="711.5" stroke="#4ad8da" stroke-width="1.6"/>
<line x1="538.20" y1="672.6" x2="538.20" y2="711.5" stroke="#4ad8da" stroke-width="1.6"/>
<line x1="542.70" y1="672.6" x2="542.70" y2="711.5" stroke="#e03232" stroke-width="1.6"/>
<line x1="547.20" y1="669.9" x2="547.20" y2="711.5" stroke="#e03232" stroke-width="1.6"/>
<line x1="551.70" y1="662.2" x2="551.70" y2="711.5" stroke="#e03232" stroke-width="1.6"/>
<line x1="556.20" y1="668.1" x2="556.20" y2="711.5" stroke="#e03232" stroke-width="1.6"/>
<line x1="562.20" y1="660.9" x2="562.20" y2="711.5" stroke="#4ad8da" stroke-width="1.6"/>
<line x1="566.70" y1="669.9" x2="566.70" y2="711.5" stroke="#4ad8da" stroke-width="1.6"/>
<line x1="571.20" y1="673.9" x2="571.20" y2="711.5" stroke="#4ad8da" stroke-width="1.6"/>
<line x1="575.70" y1="680.2" x2="575.70" y2="711.5" stroke="#e03232" stroke-width="1.6"/>
<line x1="580.20" y1="677.0" x2="580.20" y2="711.5" stroke="#4ad8da" stroke-width="1.6"/>
<line x1="584.70" y1="669.9" x2="584.70" y2="711.5" stroke="#4ad8da" stroke-width="1.6"/>
<line x1="589.20" y1="683.3" x2="589.20" y2="711.5" stroke="#4ad8da" stroke-width="1.6"/>
<line x1="593.70" y1="680.2" x2="593.70" y2="711.5" stroke="#4ad8da" stroke-width="1.6"/>
<line x1="599.70" y1="678.6" x2="599.70" y2="711.5" stroke="#e03232" stroke-width="1.6"/>
<line x1="604.20" y1="678.6" x2="604.20" y2="711.5" stroke="#4ad8da" stroke-width="1.6"/>
<line x1="608.70" y1="671.2" x2="608.70" y2="711.5" stroke="#e03232" stroke-width="1.6"/>
<line x1="613.20" y1="678.6" x2="613.20" y2="711.5" stroke="#e03232" stroke-width="1.6"/>
<line x1="617.70" y1="677.0" x2="617.70" y2="711.5" stroke="#e03232" stroke-width="1.6"/>
<line x1="622.20" y1="680.2" x2="622.20" y2="711.5" stroke="#4ad8da" stroke-width="1.6"/>
<line x1="626.70" y1="677.0" x2="626.70" y2="711.5" stroke="#4ad8da" stroke-width="1.6"/>
<line x1="631.20" y1="678.6" x2="631.20" y2="711.5" stroke="#e03232" stroke-width="1.6"/>
<line x1="637.20" y1="680.2" x2="637.20" y2="711.5" stroke="#4ad8da" stroke-width="1.6"/>
<line x1="641.70" y1="680.2" x2="641.70" y2="711.5" stroke="#e03232" stroke-width="1.6"/>
<line x1="646.20" y1="680.2" x2="646.20" y2="711.5" stroke="#e03232" stroke-width="1.6"/>
<line x1="650.70" y1="680.2" x2="650.70" y2="711.5" stroke="#4ad8da" stroke-width="1.6"/>
<line x1="655.20" y1="680.2" x2="655.20" y2="711.5" stroke="#e03232" stroke-width="1.6"/>
<line x1="659.70" y1="683.3" x2="659.70" y2="711.5" stroke="#4ad8da" stroke-width="1.6"/>
<line x1="664.20" y1="675.9" x2="664.20" y2="711.5" stroke="#e03232" stroke-width="1.6"/>
<line x1="668.70" y1="680.2" x2="668.70" y2="711.5" stroke="#4ad8da" stroke-width="1.6"/>
<line x1="674.70" y1="681.6" x2="674.70" y2="711.5" stroke="#4ad8da" stroke-width="1.6"/>
<line x1="679.20" y1="680.2" x2="679.20" y2="711.5" stroke="#4ad8da" stroke-width="1.6"/>
<line x1="683.70" y1="683.3" x2="683.70" y2="711.5" stroke="#4ad8da" stroke-width="1.6"/>
<line x1="688.20" y1="681.6" x2="688.20" y2="711.5" stroke="#e03232" stroke-width="1.6"/>
<line x1="692.70" y1="675.9" x2="692.70" y2="711.5" stroke="#e03232" stroke-width="1.6"/>
<line x1="697.20" y1="675.9" x2="697.20" y2="711.5" stroke="#4ad8da" stroke-width="1.6"/>
<line x1="701.70" y1="680.2" x2="701.70" y2="711.5" stroke="#4ad8da" stroke-width="1.6"/>
<line x1="706.20" y1="674.3" x2="706.20" y2="711.5" stroke="#4ad8da" stroke-width="1.6"/>
<line x1="712.20" y1="678.6" x2="712.20" y2="711.5" stroke="#4ad8da" stroke-width="1.6"/>
<line x1="716.70" y1="681.6" x2="716.70" y2="711.5" stroke="#e03232" stroke-width="1.6"/>
<line x1="721.20" y1="681.6" x2="721.20" y2="711.5" stroke="#4ad8da" stroke-width="1.6"/>
<line x1="725.70" y1="678.6" x2="725.70" y2="711.5" stroke="#4ad8da" stroke-width="1.6"/>
<line x1="730.20" y1="675.9" x2="730.20" y2="711.5" stroke="#4ad8da" stroke-width="1.6"/>
<line x1="734.70" y1="681.6" x2="734.70" y2="711.5" stroke="#4ad8da" stroke-width="1.6"/>
<line x1="739.20" y1="678.6" x2="739.20" y2="711.5" stroke="#e03232" stroke-width="1.6"/>
<line x1="743.70" y1="671.2" x2="743.70" y2="711.5" stroke="#e03232" stroke-width="1.6"/>
<line x1="748.20" y1="677.3" x2="748.20" y2="711.5" stroke="#4ad8da" stroke-width="1.6"/>
<line x1="754.20" y1="677.3" x2="754.20" y2="711.5" stroke="#e03232" stroke-width="1.6"/>
<line x1="758.70" y1="684.7" x2="758.70" y2="711.5" stroke="#e03232" stroke-width="1.6"/>
<line x1="763.20" y1="677.3" x2="763.20" y2="711.5" stroke="#e03232" stroke-width="1.6"/>
<line x1="767.70" y1="673.0" x2="767.70" y2="711.5" stroke="#4ad8da" stroke-width="1.6"/>
<line x1="772.20" y1="680.2" x2="772.20" y2="711.5" stroke="#e03232" stroke-width="1.6"/>
<line x1="776.70" y1="681.6" x2="776.70" y2="711.5" stroke="#4ad8da" stroke-width="1.6"/>
<line x1="781.20" y1="684.7" x2="781.20" y2="711.5" stroke="#4ad8da" stroke-width="1.6"/>
<line x1="785.70" y1="684.7" x2="785.70" y2="711.5" stroke="#4ad8da" stroke-width="1.6"/>
<line x1="791.70" y1="668.1" x2="791.70" y2="711.5" stroke="#4ad8da" stroke-width="1.6"/>
<line x1="796.20" y1="669.9" x2="796.20" y2="711.5" stroke="#e03232" stroke-width="1.6"/>
<line x1="800.70" y1="680.2" x2="800.70" y2="711.5" stroke="#4ad8da" stroke-width="1.6"/>
<line x1="805.20" y1="678.6" x2="805.20" y2="711.5" stroke="#4ad8da" stroke-width="1.6"/>
<line x1="809.70" y1="673.9" x2="809.70" y2="711.5" stroke="#e03232" stroke-width="1.6"/>
<line x1="814.20" y1="677.0" x2="814.20" y2="711.5" stroke="#4ad8da" stroke-width="1.6"/>
<line x1="818.70" y1="671.9" x2="818.70" y2="711.5" stroke="#e03232" stroke-width="1.6"/>
<line x1="823.20" y1="657.8" x2="823.20" y2="711.5" stroke="#e03232" stroke-width="1.6"/>
<line x1="829.20" y1="668.1" x2="829.20" y2="711.5" stroke="#4ad8da" stroke-width="1.6"/>
<line x1="833.70" y1="673.9" x2="833.70" y2="711.5" stroke="#4ad8da" stroke-width="1.6"/>
<line x1="838.20" y1="673.9" x2="838.20" y2="711.5" stroke="#e03232" stroke-width="1.6"/>
<line x1="842.70" y1="677.0" x2="842.70" y2="711.5" stroke="#4ad8da" stroke-width="1.6"/>
<line x1="847.20" y1="681.6" x2="847.20" y2="711.5" stroke="#4ad8da" stroke-width="1.6"/>
<line x1="851.70" y1="677.0" x2="851.70" y2="711.5" stroke="#e03232" stroke-width="1.6"/>
<line x1="856.20" y1="677.0" x2="856.20" y2="711.5" stroke="#e03232" stroke-width="1.6"/>
<line x1="860.70" y1="663.8" x2="860.70" y2="711.5" stroke="#4ad8da" stroke-width="1.6"/>
<line x1="866.70" y1="656.4" x2="866.70" y2="711.5" stroke="#e03232" stroke-width="1.6"/>
<line x1="871.20" y1="656.4" x2="871.20" y2="711.5" stroke="#e03232" stroke-width="1.6"/>
<line x1="875.70" y1="671.6" x2="875.70" y2="711.5" stroke="#e03232" stroke-width="1.6"/>
<line x1="880.20" y1="663.8" x2="880.20" y2="711.5" stroke="#4ad8da" stroke-width="1.6"/>
<line x1="884.70" y1="671.3" x2="884.70" y2="711.5" stroke="#4ad8da" stroke-width="1.6"/>
<line x1="889.20" y1="675.7" x2="889.20" y2="711.5" stroke="#e03232" stroke-width="1.6"/>
<line x1="893.70" y1="660.8" x2="893.70" y2="711.5" stroke="#e03232" stroke-width="1.6"/>
<line x1="898.20" y1="641.3" x2="898.20" y2="711.5" stroke="#e03232" stroke-width="1.6"/>
<line x1="904.20" y1="651.7" x2="904.20" y2="711.5" stroke="#4ad8da" stroke-width="1.6"/>
<line x1="908.70" y1="660.9" x2="908.70" y2="711.5" stroke="#e03232" stroke-width="1.6"/>
<line x1="913.20" y1="653.3" x2="913.20" y2="711.5" stroke="#4ad8da" stroke-width="1.6"/>
<line x1="917.70" y1="660.9" x2="917.70" y2="711.5" stroke="#4ad8da" stroke-width="1.6"/>
<line x1="922.20" y1="659.1" x2="922.20" y2="711.5" stroke="#4ad8da" stroke-width="1.6"/>
<line x1="926.70" y1="665.2" x2="926.70" y2="711.5" stroke="#e03232" stroke-width="1.6"/>
<line x1="931.20" y1="669.9" x2="931.20" y2="711.5" stroke="#4ad8da" stroke-width="1.6"/>
<line x1="935.70" y1="659.1" x2="935.70" y2="711.5" stroke="#4ad8da" stroke-width="1.6"/>
<line x1="941.70" y1="677.3" x2="941.70" y2="711.5" stroke="#4ad8da" stroke-width="1.6"/>
<line x1="946.20" y1="675.6" x2="946.20" y2="711.5" stroke="#e03232" stroke-width="1.6"/>
<line x1="950.70" y1="668.5" x2="950.70" y2="711.5" stroke="#e03232" stroke-width="1.6"/>
<line x1="955.20" y1="668.1" x2="955.20" y2="711.5" stroke="#4ad8da" stroke-width="1.6"/>
<line x1="959.70" y1="672.6" x2="959.70" y2="711.5" stroke="#e03232" stroke-width="1.6"/>
<line x1="964.20" y1="657.8" x2="964.20" y2="711.5" stroke="#e03232" stroke-width="1.6"/>
<line x1="968.70" y1="668.1" x2="968.70" y2="711.5" stroke="#e03232" stroke-width="1.6"/>
<line x1="973.20" y1="665.2" x2="973.20" y2="711.5" stroke="#e03232" stroke-width="1.6"/>
<line x1="977.70" y1="666.4" x2="977.70" y2="711.5" stroke="#4ad8da" stroke-width="1.6"/>
<line x1="983.70" y1="672.7" x2="983.70" y2="711.5" stroke="#4ad8da" stroke-width="1.6"/>
<line x1="988.20" y1="675.7" x2="988.20" y2="711.5" stroke="#4ad8da" stroke-width="1.6"/>
<line x1="992.70" y1="677.0" x2="992.70" y2="711.5" stroke="#e03232" stroke-width="1.6"/>
<line x1="997.20" y1="675.7" x2="997.20" y2="711.5" stroke="#4ad8da" stroke-width="1.6"/>
<line x1="1001.70" y1="670.1" x2="1001.70" y2="711.5" stroke="#e03232" stroke-width="1.6"/>
<line x1="1006.20" y1="669.7" x2="1006.20" y2="711.5" stroke="#4ad8da" stroke-width="1.6"/>
<line x1="1010.70" y1="677.0" x2="1010.70" y2="711.5" stroke="#4ad8da" stroke-width="1.6"/>
<line x1="1015.20" y1="678.7" x2="1015.20" y2="711.5" stroke="#e03232" stroke-width="1.6"/>
<line x1="1021.20" y1="680.4" x2="1021.20" y2="711.5" stroke="#4ad8da" stroke-width="1.6"/>
<line x1="1025.70" y1="680.0" x2="1025.70" y2="711.5" stroke="#e03232" stroke-width="1.6"/>
<line x1="1030.20" y1="680.0" x2="1030.20" y2="711.5" stroke="#4ad8da" stroke-width="1.6"/>
<line x1="1034.70" y1="680.4" x2="1034.70" y2="711.5" stroke="#e03232" stroke-width="1.6"/>
<line x1="1039.20" y1="668.3" x2="1039.20" y2="711.5" stroke="#e03232" stroke-width="1.6"/>
<line x1="1043.70" y1="677.0" x2="1043.70" y2="711.5" stroke="#4ad8da" stroke-width="1.6"/>
<line x1="1048.20" y1="672.7" x2="1048.20" y2="711.5" stroke="#4ad8da" stroke-width="1.6"/>
<line x1="1052.70" y1="677.0" x2="1052.70" y2="711.5" stroke="#e03232" stroke-width="1.6"/>
<line x1="1058.70" y1="681.7" x2="1058.70" y2="711.5" stroke="#4ad8da" stroke-width="1.6"/>
<line x1="1063.20" y1="677.0" x2="1063.20" y2="711.5" stroke="#4ad8da" stroke-width="1.6"/>
<line x1="1067.70" y1="665.2" x2="1067.70" y2="711.5" stroke="#e03232" stroke-width="1.6"/>
<line x1="1072.20" y1="660.9" x2="1072.20" y2="711.5" stroke="#e03232" stroke-width="1.6"/>
<line x1="1076.70" y1="664.3" x2="1076.70" y2="711.5" stroke="#e03232" stroke-width="1.6"/>
<line x1="1081.20" y1="658.0" x2="1081.20" y2="711.5" stroke="#4ad8da" stroke-width="1.6"/>
<line x1="1085.70" y1="663.9" x2="1085.70" y2="711.5" stroke="#4ad8da" stroke-width="1.6"/>
<line x1="1090.20" y1="665.2" x2="1090.20" y2="711.5" stroke="#e03232" stroke-width="1.6"/>
<line x1="1096.20" y1="666.0" x2="1096.20" y2="711.5" stroke="#4ad8da" stroke-width="1.6"/>
<line x1="1100.70" y1="665.2" x2="1100.70" y2="711.5" stroke="#e03232" stroke-width="1.6"/>
<line x1="1105.20" y1="666.6" x2="1105.20" y2="711.5" stroke="#e03232" stroke-width="1.6"/>
<line x1="1109.70" y1="669.7" x2="1109.70" y2="711.5" stroke="#4ad8da" stroke-width="1.6"/>
<line x1="1114.20" y1="669.7" x2="1114.20" y2="711.5" stroke="#e03232" stroke-width="1.6"/>
<line x1="1118.70" y1="669.7" x2="1118.70" y2="711.5" stroke="#e03232" stroke-width="1.6"/>
<line x1="1123.20" y1="672.7" x2="1123.20" y2="711.5" stroke="#4ad8da" stroke-width="1.6"/>
<line x1="1127.70" y1="678.7" x2="1127.70" y2="711.5" stroke="#e03232" stroke-width="1.6"/>
<line x1="1133.70" y1="669.7" x2="1133.70" y2="711.5" stroke="#e03232" stroke-width="1.6"/>
<line x1="1138.20" y1="669.7" x2="1138.20" y2="711.5" stroke="#4ad8da" stroke-width="1.6"/>
<line x1="1142.70" y1="671.4" x2="1142.70" y2="711.5" stroke="#4ad8da" stroke-width="1.6"/>
<line x1="1147.20" y1="671.0" x2="1147.20" y2="711.5" stroke="#4ad8da" stroke-width="1.6"/>
<line x1="1151.70" y1="678.7" x2="1151.70" y2="711.5" stroke="#4ad8da" stroke-width="1.6"/>
<line x1="1156.20" y1="672.7" x2="1156.20" y2="711.5" stroke="#4ad8da" stroke-width="1.6"/>
<line x1="1160.70" y1="674.1" x2="1160.70" y2="711.5" stroke="#e03232" stroke-width="1.6"/>
<line x1="1165.20" y1="669.7" x2="1165.20" y2="711.5" stroke="#e03232" stroke-width="1.6"/>
<line x1="1169.70" y1="663.9" x2="1169.70" y2="711.5" stroke="#e03232" stroke-width="1.6"/>
<line x1="1175.70" y1="653.3" x2="1175.70" y2="711.5" stroke="#e03232" stroke-width="1.6"/>
<line x1="1180.20" y1="657.9" x2="1180.20" y2="711.5" stroke="#e03232" stroke-width="1.6"/>
<line x1="1184.70" y1="657.0" x2="1184.70" y2="711.5" stroke="#4ad8da" stroke-width="1.6"/>
<line x1="1189.20" y1="638.3" x2="1189.20" y2="711.5" stroke="#e03232" stroke-width="1.6"/>
<line x1="1193.70" y1="627.6" x2="1193.70" y2="711.5" stroke="#4ad8da" stroke-width="1.6"/>
<line x1="1198.20" y1="644.0" x2="1198.20" y2="711.5" stroke="#e03232" stroke-width="1.6"/>
<line x1="1202.70" y1="625.0" x2="1202.70" y2="711.5" stroke="#e03232" stroke-width="1.6"/>
<line x1="1207.20" y1="632.8" x2="1207.20" y2="711.5" stroke="#e03232" stroke-width="1.6"/>
<line x1="1213.20" y1="593.3" x2="1213.20" y2="711.5" stroke="#e03232" stroke-width="1.6"/>
<line x1="1217.70" y1="585.6" x2="1217.70" y2="711.5" stroke="#4ad8da" stroke-width="1.6"/>
<line x1="1222.20" y1="612.8" x2="1222.20" y2="711.5" stroke="#4ad8da" stroke-width="1.6"/>
<line x1="1226.70" y1="632.4" x2="1226.70" y2="711.5" stroke="#e03232" stroke-width="1.6"/>
<line x1="1231.20" y1="634.8" x2="1231.20" y2="711.5" stroke="#e03232" stroke-width="1.6"/>
<line x1="1235.70" y1="597.8" x2="1235.70" y2="711.5" stroke="#e03232" stroke-width="1.6"/>
<line x1="1240.20" y1="596.4" x2="1240.20" y2="711.5" stroke="#e03232" stroke-width="1.6"/>
<line x1="1244.70" y1="579.9" x2="1244.70" y2="711.5" stroke="#e03232" stroke-width="1.6"/>
<line x1="1250.70" y1="578.2" x2="1250.70" y2="711.5" stroke="#4ad8da" stroke-width="1.6"/>
<line x1="1255.20" y1="573.9" x2="1255.20" y2="711.5" stroke="#e03232" stroke-width="1.6"/>
<line x1="1259.70" y1="592.0" x2="1259.70" y2="711.5" stroke="#e03232" stroke-width="1.6"/>
<line x1="1264.20" y1="569.5" x2="1264.20" y2="711.5" stroke="#e03232" stroke-width="1.6"/>
<line x1="1268.70" y1="587.4" x2="1268.70" y2="711.5" stroke="#4ad8da" stroke-width="1.6"/>
<line x1="1273.20" y1="615.8" x2="1273.20" y2="711.5" stroke="#4ad8da" stroke-width="1.6"/>
<line x1="1277.70" y1="632.4" x2="1277.70" y2="711.5" stroke="#4ad8da" stroke-width="1.6"/>
<line x1="1282.20" y1="633.6" x2="1282.20" y2="711.5" stroke="#e03232" stroke-width="1.6"/>
<line x1="1288.20" y1="632.4" x2="1288.20" y2="711.5" stroke="#e03232" stroke-width="1.6"/>
<line x1="1292.70" y1="630.7" x2="1292.70" y2="711.5" stroke="#4ad8da" stroke-width="1.6"/>
<line x1="1297.20" y1="615.8" x2="1297.20" y2="711.5" stroke="#e03232" stroke-width="1.6"/>
<line x1="1301.70" y1="630.7" x2="1301.70" y2="711.5" stroke="#4ad8da" stroke-width="1.6"/>
<line x1="1306.20" y1="627.6" x2="1306.20" y2="711.5" stroke="#e03232" stroke-width="1.6"/>
<line x1="1310.70" y1="625.5" x2="1310.70" y2="711.5" stroke="#4ad8da" stroke-width="1.6"/>
<line x1="1315.20" y1="639.7" x2="1315.20" y2="711.5" stroke="#4ad8da" stroke-width="1.6"/>
<line x1="1319.70" y1="641.4" x2="1319.70" y2="711.5" stroke="#4ad8da" stroke-width="1.6"/>
<line x1="1325.70" y1="630.7" x2="1325.70" y2="711.5" stroke="#e03232" stroke-width="1.6"/>
<line x1="1330.20" y1="612.8" x2="1330.20" y2="711.5" stroke="#e03232" stroke-width="1.6"/>
<line x1="1334.70" y1="605.4" x2="1334.70" y2="711.5" stroke="#4ad8da" stroke-width="1.6"/>
<line x1="1339.20" y1="624.4" x2="1339.20" y2="711.5" stroke="#e03232" stroke-width="1.6"/>
<line x1="1343.70" y1="617.2" x2="1343.70" y2="711.5" stroke="#4ad8da" stroke-width="1.6"/>
<line x1="1348.20" y1="615.1" x2="1348.20" y2="711.5" stroke="#4ad8da" stroke-width="1.6"/>
<line x1="1352.70" y1="632.4" x2="1352.70" y2="711.5" stroke="#e03232" stroke-width="1.6"/>
<line x1="1357.20" y1="617.2" x2="1357.20" y2="711.5" stroke="#4ad8da" stroke-width="1.6"/>
<line x1="1361.70" y1="627.6" x2="1361.70" y2="711.5" stroke="#4ad8da" stroke-width="1.6"/>
<line x1="1367.70" y1="644.2" x2="1367.70" y2="711.5" stroke="#e03232" stroke-width="1.6"/>
<line x1="1372.20" y1="639.5" x2="1372.20" y2="711.5" stroke="#4ad8da" stroke-width="1.6"/>
<line x1="1376.70" y1="633.9" x2="1376.70" y2="711.5" stroke="#e03232" stroke-width="1.6"/>
<line x1="1381.20" y1="626.3" x2="1381.20" y2="711.5" stroke="#e03232" stroke-width="1.6"/>
<line x1="1385.70" y1="631.1" x2="1385.70" y2="711.5" stroke="#4ad8da" stroke-width="1.6"/>
<line x1="1390.20" y1="633.9" x2="1390.20" y2="711.5" stroke="#e03232" stroke-width="1.6"/>
<line x1="1394.70" y1="627.7" x2="1394.70" y2="711.5" stroke="#4ad8da" stroke-width="1.6"/>
<line x1="1399.20" y1="636.7" x2="1399.20" y2="711.5" stroke="#4ad8da" stroke-width="1.6"/>
<line x1="1405.20" y1="641.3" x2="1405.20" y2="711.5" stroke="#e03232" stroke-width="1.6"/>
<line x1="1409.70" y1="627.7" x2="1409.70" y2="711.5" stroke="#4ad8da" stroke-width="1.6"/>
<line x1="1414.20" y1="645.8" x2="1414.20" y2="711.5" stroke="#4ad8da" stroke-width="1.6"/>
<line x1="1418.70" y1="637.4" x2="1418.70" y2="711.5" stroke="#4ad8da" stroke-width="1.6"/>
<line x1="1423.20" y1="657.6" x2="1423.20" y2="711.5" stroke="#e03232" stroke-width="1.6"/>
<line x1="1427.70" y1="645.8" x2="1427.70" y2="711.5" stroke="#4ad8da" stroke-width="1.6"/>
<line x1="1432.20" y1="653.0" x2="1432.20" y2="711.5" stroke="#4ad8da" stroke-width="1.6"/>
<line x1="1436.70" y1="656.2" x2="1436.70" y2="711.5" stroke="#e03232" stroke-width="1.6"/>
<line x1="1442.70" y1="660.9" x2="1442.70" y2="711.5" stroke="#4ad8da" stroke-width="1.6"/>
<line x1="1447.20" y1="639.5" x2="1447.20" y2="711.5" stroke="#e03232" stroke-width="1.6"/>
<line x1="1451.70" y1="656.2" x2="1451.70" y2="711.5" stroke="#4ad8da" stroke-width="1.6"/>
<polyline points="4.2,677.9 8.7,677.2 13.2,677.3 17.7,676.7 23.7,676.2 28.2,675.8 32.7,677.2 37.2,677.9 41.7,678.5 46.2,678.8 50.7,678.2 55.2,678.6 61.2,678.5 65.7,679.9 70.2,680.8 74.7,681.4 79.2,680.0 83.7,678.8 88.2,677.8 92.7,676.8 98.7,676.5 103.2,676.0 107.7,675.0 112.2,673.6 116.7,672.9 121.2,669.9 125.7,667.8 130.2,667.2 134.7,667.4 140.7,668.1 145.2,668.9 149.7,668.7 154.2,668.9 158.7,667.5 163.2,667.1 167.7,667.2 172.2,669.0 178.2,669.0 182.7,667.9 187.2,667.0 191.7,664.8 196.2,662.6 200.7,661.3 205.2,661.5 209.7,660.9 215.7,661.5 220.2,661.2 224.7,662.2 229.2,663.5 233.7,664.1 238.2,665.2 242.7,666.1 247.2,666.7 253.2,666.7 257.7,666.9 262.2,667.3 266.7,667.3 271.2,667.1 275.7,667.3 280.2,667.6 284.7,668.0 290.7,669.5 295.2,670.1 299.7,670.9 304.2,671.0 308.7,671.0 313.2,671.4 317.7,671.6 322.2,672.0 328.2,672.2 332.7,673.1 337.2,673.3 341.7,672.9 346.2,672.6 350.7,672.3 355.2,673.0 359.7,673.3 364.2,673.3 370.2,672.9 374.7,672.2 379.2,671.9 383.7,671.9 388.2,673.2 392.7,673.9 397.2,674.8 401.7,675.3 407.7,675.9 412.2,676.9 416.7,677.8 421.2,679.1 425.7,679.9 430.2,679.9 434.7,678.7 439.2,678.3 445.2,678.3 449.7,678.1 454.2,678.3 458.7,677.7 463.2,677.4 467.7,676.9 472.2,675.3 476.7,674.6 482.7,674.1 487.2,674.1 491.7,674.0 496.2,673.5 500.7,673.0 505.2,672.7 509.7,671.8 514.2,669.9 520.2,669.5 524.7,669.4 529.2,669.8 533.7,669.4 538.2,669.1 542.7,669.1 547.2,668.5 551.7,667.4 556.2,667.4 562.2,667.7 566.7,668.3 571.2,668.8 575.7,669.8 580.2,670.7 584.7,670.5 589.2,671.5 593.7,672.6 599.7,674.2 604.2,675.2 608.7,676.3 613.2,677.1 617.7,677.5 622.2,677.5 626.7,677.5 631.2,678.3 637.2,678.0 641.7,678.0 646.2,678.2 650.7,678.3 655.2,679.2 659.7,679.7 664.2,679.6 668.7,679.6 674.7,680.1 679.2,680.2 683.7,680.5 688.2,680.7 692.7,680.2 697.2,679.8 701.7,679.8 706.2,678.9 712.2,679.2 716.7,679.3 721.2,679.3 725.7,679.2 730.2,678.4 734.7,678.4 739.2,678.7 743.7,678.2 748.2,677.9 754.2,678.2 758.7,678.8 763.2,678.4 767.7,677.5 772.2,677.7 776.7,678.3 781.2,678.6 785.7,679.2 791.7,678.9 796.2,678.1 800.7,678.4 805.2,677.8 809.7,677.5 814.2,677.9 818.7,677.1 823.2,674.7 829.2,673.0 833.7,671.9 838.2,672.5 842.7,673.2 847.2,673.4 851.7,673.2 856.2,673.5 860.7,672.2 866.7,670.6 871.2,670.5 875.7,670.9 880.2,669.9 884.7,669.6 889.2,669.5 893.7,667.4 898.2,663.8 904.2,661.3 908.7,661.0 913.2,660.7 917.7,661.1 922.2,659.9 926.7,660.0 931.2,659.9 935.7,658.2 941.7,659.9 946.2,663.3 950.7,665.0 955.2,665.7 959.7,667.6 964.2,667.3 968.7,668.2 973.2,668.2 977.7,667.9 983.7,669.2 988.2,669.1 992.7,669.2 997.2,669.9 1001.7,670.1 1006.2,669.8 1010.7,671.8 1015.2,672.8 1021.2,674.3 1025.7,675.7 1030.2,676.4 1034.7,676.9 1039.2,676.0 1043.7,676.2 1048.2,676.4 1052.7,677.1 1058.7,677.6 1063.2,677.5 1067.7,675.9 1072.2,674.0 1076.7,672.5 1081.2,670.2 1085.7,669.8 1090.2,668.6 1096.2,667.9 1100.7,666.7 1105.2,665.2 1109.7,664.5 1114.2,665.0 1118.7,665.8 1123.2,666.7 1127.7,668.7 1133.7,669.3 1138.2,669.8 1142.7,670.3 1147.2,670.9 1151.7,672.1 1156.2,672.4 1160.7,672.8 1165.2,672.8 1169.7,672.0 1175.7,669.4 1180.2,668.2 1184.7,667.0 1189.2,663.7 1193.7,659.3 1198.2,655.9 1202.7,651.1 1207.2,647.0 1213.2,639.3 1217.7,631.5 1222.2,627.4 1226.7,624.9 1231.2,622.7 1235.7,618.6 1240.2,615.5 1244.7,609.1 1250.7,604.4 1255.2,598.5 1259.7,598.4 1264.2,596.8 1268.7,594.2 1273.2,592.6 1277.7,592.3 1282.2,595.9 1288.2,599.5 1292.7,604.6 1297.2,608.4 1301.7,614.0 1306.2,617.6 1310.7,623.2 1315.2,628.4 1319.7,631.0 1325.7,630.8 1330.2,628.7 1334.7,626.0 1339.2,625.4 1343.7,625.5 1348.2,624.0 1352.7,624.5 1357.2,623.6 1361.7,622.4 1367.7,622.7 1372.2,623.6 1376.7,625.7 1381.2,627.8 1385.7,628.5 1390.2,630.1 1394.7,631.4 1399.2,631.8 1405.2,634.2 1409.7,634.2 1414.2,634.4 1418.7,634.2 1423.2,636.5 1427.7,638.5 1432.2,640.7 1436.7,642.9 1442.7,646.2 1447.2,646.5 1451.7,648.0" fill="none" stroke="#f0f000" stroke-width="1.3" stroke-linejoin="round" />
<polyline points="4.2,673.2 8.7,674.0 13.2,676.3 17.7,677.2 23.7,678.3 28.2,678.3 32.7,680.4 37.2,679.4 41.7,679.8 46.2,679.3 50.7,678.1 55.2,676.9 61.2,677.5 65.7,679.9 70.2,682.2 74.7,684.6 79.2,683.1 83.7,680.1 88.2,675.6 92.7,671.4 98.7,668.3 103.2,668.9 107.7,669.9 112.2,671.7 116.7,674.4 121.2,671.5 125.7,666.7 130.2,664.6 134.7,663.0 140.7,661.8 145.2,666.3 149.7,670.7 154.2,673.2 158.7,672.0 163.2,672.3 167.7,668.2 172.2,667.4 178.2,664.9 182.7,663.8 187.2,661.8 191.7,661.4 196.2,657.8 200.7,657.7 205.2,659.2 209.7,660.0 215.7,661.5 220.2,664.6 224.7,666.7 229.2,667.9 233.7,668.1 238.2,668.8 242.7,667.6 247.2,666.7 253.2,665.5 257.7,665.7 262.2,665.8 266.7,666.9 271.2,667.6 275.7,669.1 280.2,669.6 284.7,670.3 290.7,672.1 295.2,672.7 299.7,672.7 304.2,672.4 308.7,671.7 313.2,670.6 317.7,670.6 322.2,671.2 328.2,672.1 332.7,674.5 337.2,675.9 341.7,675.1 346.2,674.0 350.7,672.5 355.2,671.5 359.7,670.6 364.2,671.4 370.2,671.8 374.7,671.9 379.2,672.2 383.7,673.2 388.2,675.0 392.7,676.0 397.2,677.7 401.7,678.3 407.7,678.6 412.2,678.9 416.7,679.5 421.2,680.5 425.7,681.4 430.2,681.1 434.7,678.5 439.2,677.0 445.2,676.1 449.7,674.9 454.2,675.5 458.7,676.9 463.2,677.7 467.7,677.6 472.2,675.8 476.7,673.7 482.7,671.4 487.2,670.5 491.7,670.3 496.2,671.2 500.7,672.3 505.2,674.1 509.7,673.2 514.2,669.6 520.2,667.8 524.7,666.4 529.2,665.6 533.7,665.6 538.2,668.6 542.7,670.3 547.2,670.6 551.7,669.1 556.2,669.1 562.2,666.7 566.7,666.2 571.2,667.0 575.7,670.6 580.2,672.4 584.7,674.2 589.2,676.9 593.7,678.1 599.7,677.8 604.2,678.1 608.7,678.4 613.2,677.4 617.7,676.8 622.2,677.1 626.7,676.8 631.2,678.3 637.2,678.6 641.7,679.2 646.2,679.2 650.7,679.9 655.2,680.2 659.7,680.8 664.2,680.0 668.7,680.0 674.7,680.2 679.2,680.2 683.7,680.2 688.2,681.4 692.7,680.5 697.2,679.4 701.7,679.4 706.2,677.6 712.2,677.0 716.7,678.1 721.2,679.3 725.7,678.9 730.2,679.3 734.7,679.9 739.2,679.3 743.7,677.2 748.2,676.9 754.2,677.2 758.7,677.8 763.2,677.6 767.7,677.9 772.2,678.5 776.7,679.4 781.2,679.4 785.7,680.8 791.7,679.9 796.2,677.8 800.7,677.5 805.2,676.3 809.7,674.1 814.2,675.9 818.7,676.3 823.2,671.8 829.2,669.7 833.7,669.7 838.2,669.1 842.7,670.1 847.2,674.9 851.7,676.7 856.2,677.3 860.7,675.3 866.7,671.2 871.2,666.1 875.7,665.0 880.2,662.4 884.7,663.9 889.2,667.8 893.7,668.6 898.2,662.6 904.2,660.2 908.7,658.1 913.2,653.6 917.7,653.6 922.2,657.2 926.7,659.9 931.2,661.7 935.7,662.8 941.7,666.1 946.2,669.4 950.7,670.1 955.2,669.7 959.7,672.4 964.2,668.5 968.7,667.0 973.2,666.4 977.7,666.0 983.7,666.0 988.2,669.6 992.7,671.4 997.2,673.5 1001.7,674.2 1006.2,673.6 1010.7,673.9 1015.2,674.2 1021.2,675.2 1025.7,677.2 1030.2,679.2 1034.7,679.9 1039.2,677.8 1043.7,677.1 1048.2,675.7 1052.7,675.1 1058.7,675.3 1063.2,677.1 1067.7,674.7 1072.2,672.4 1076.7,669.8 1081.2,665.1 1085.7,662.5 1090.2,662.5 1096.2,663.5 1100.7,663.7 1105.2,665.4 1109.7,666.5 1114.2,667.4 1118.7,668.2 1123.2,669.7 1127.7,672.1 1133.7,672.1 1138.2,672.1 1142.7,672.4 1147.2,672.1 1151.7,672.1 1156.2,672.7 1160.7,673.6 1165.2,673.2 1169.7,671.8 1175.7,666.7 1180.2,663.8 1184.7,660.4 1189.2,654.1 1193.7,646.8 1198.2,645.0 1202.7,638.4 1207.2,633.5 1213.2,624.5 1217.7,616.1 1222.2,609.9 1226.7,611.4 1231.2,611.8 1235.7,612.7 1240.2,614.8 1244.7,608.3 1250.7,597.4 1255.2,585.2 1259.7,584.1 1264.2,578.7 1268.7,580.2 1273.2,587.7 1277.7,599.4 1282.2,607.7 1288.2,620.3 1292.7,629.0 1297.2,629.0 1301.7,628.6 1306.2,627.4 1310.7,626.1 1315.2,627.9 1319.7,633.0 1325.7,633.0 1330.2,630.0 1334.7,626.0 1339.2,622.9 1343.7,618.1 1348.2,615.0 1352.7,618.9 1357.2,621.3 1361.7,621.9 1367.7,627.3 1372.2,632.2 1376.7,632.5 1381.2,634.3 1385.7,635.0 1390.2,632.9 1394.7,630.6 1399.2,631.1 1405.2,634.1 1409.7,633.5 1414.2,635.8 1418.7,637.8 1423.2,642.0 1427.7,642.9 1432.2,647.9 1436.7,650.0 1442.7,654.7 1447.2,651.1 1451.7,653.2" fill="none" stroke="#ececec" stroke-width="1.3" stroke-linejoin="round" />
<polyline points="4.2,777.9 8.7,785.5 13.2,799.0 17.7,836.5 23.7,869.9 28.2,875.1 32.7,877.9 37.2,879.6 41.7,871.9 46.2,859.6 50.7,856.4 55.2,836.9 61.2,820.8 65.7,811.4 70.2,778.7 74.7,756.6 79.2,742.3 83.7,743.1 88.2,746.4 92.7,744.2 98.7,760.5 103.2,758.4 107.7,761.2 112.2,769.0 116.7,769.9 121.2,764.4 125.7,767.4 130.2,779.3 134.7,800.8 140.7,810.9 145.2,833.1 149.7,830.3 154.2,813.5 158.7,829.0 163.2,851.1 167.7,872.7 172.2,850.5 178.2,804.4 182.7,783.1 187.2,772.7 191.7,752.9 196.2,753.7 200.7,763.8 205.2,781.8 209.7,795.1 215.7,824.8 220.2,844.2 224.7,862.0 229.2,871.4 233.7,862.9 238.2,876.0 242.7,843.4 247.2,815.6 253.2,829.0 257.7,842.1 262.2,811.6 266.7,791.7 271.2,801.6 275.7,797.8 280.2,791.5 284.7,769.8 290.7,762.5 295.2,754.4 299.7,747.3 304.2,750.9 308.7,749.7 313.2,775.6 317.7,795.1 322.2,788.0 328.2,803.0 332.7,834.6 337.2,839.7 341.7,804.1 346.2,771.6 350.7,792.7 355.2,816.7 359.7,856.1 364.2,870.8 370.2,876.0 374.7,875.6 379.2,873.1 383.7,872.5 388.2,867.2 392.7,846.6 397.2,834.5 401.7,829.4 407.7,843.3 412.2,855.8 416.7,832.1 421.2,848.4 425.7,857.4 430.2,865.2 434.7,866.7 439.2,859.9 445.2,863.3 449.7,853.8 454.2,847.6 458.7,840.3 463.2,840.4 467.7,836.9 472.2,814.1 476.7,784.4 482.7,757.6 487.2,779.7 491.7,807.1 496.2,835.7 500.7,811.7 505.2,791.9 509.7,801.3 514.2,774.6 520.2,758.6 524.7,755.3 529.2,754.9 533.7,765.9 538.2,798.0 542.7,793.6 547.2,784.8 551.7,779.2 556.2,779.8 562.2,808.4 566.7,838.4 571.2,868.7 575.7,877.5 580.2,878.5 584.7,878.4 589.2,881.4 593.7,879.3 599.7,863.4 604.2,862.1 608.7,839.0 613.2,813.0 617.7,791.5 622.2,771.5 626.7,793.2 631.2,819.7 637.2,853.4 641.7,852.0 646.2,838.1 650.7,838.8 655.2,831.6 659.7,828.3 664.2,801.2 668.7,771.7 674.7,769.7 679.2,783.5 683.7,837.5 688.2,840.6 692.7,832.0 697.2,847.3 701.7,865.6 706.2,871.9 712.2,876.6 716.7,871.7 721.2,871.0 725.7,857.3 730.2,865.8 734.7,868.7 739.2,851.8 743.7,827.4 748.2,802.6 754.2,760.7 758.7,753.0 763.2,751.9 767.7,764.3 772.2,771.3 776.7,828.6 781.2,856.5 785.7,868.3 791.7,876.2 796.2,869.5 800.7,869.9 805.2,873.6 809.7,867.1 814.2,870.6 818.7,843.0 823.2,802.2 829.2,776.3 833.7,774.8 838.2,781.8 842.7,793.4 847.2,805.6 851.7,808.0 856.2,800.5 860.7,795.4 866.7,767.4 871.2,764.4 875.7,764.8 880.2,767.9 884.7,777.2 889.2,784.9 893.7,769.7 898.2,765.4 904.2,768.2 908.7,762.5 913.2,766.9 917.7,779.7 922.2,813.0 926.7,827.8 931.2,842.5 935.7,867.4 941.7,878.3 946.2,870.0 950.7,854.6 955.2,855.8 959.7,839.8 964.2,792.0 968.7,761.6 973.2,752.9 977.7,779.8 983.7,810.9 988.2,831.3 992.7,834.0 997.2,835.2 1001.7,842.4 1006.2,864.8 1010.7,867.8 1015.2,870.4 1021.2,871.9 1025.7,866.4 1030.2,864.3 1034.7,849.6 1039.2,843.8 1043.7,845.7 1048.2,854.0 1052.7,849.8 1058.7,862.6 1063.2,857.3 1067.7,824.7 1072.2,787.0 1076.7,775.4 1081.2,769.9 1085.7,772.0 1090.2,773.9 1096.2,789.4 1100.7,782.6 1105.2,780.5 1109.7,816.3 1114.2,808.2 1118.7,790.8 1123.2,816.2 1127.7,837.8 1133.7,820.3 1138.2,814.9 1142.7,822.7 1147.2,845.4 1151.7,865.6 1156.2,869.7 1160.7,815.4 1165.2,773.3 1169.7,753.3 1175.7,744.9 1180.2,745.2 1184.7,751.2 1189.2,749.3 1193.7,757.3 1198.2,761.9 1202.7,772.6 1207.2,766.6 1213.2,761.0 1217.7,771.9 1222.2,785.1 1226.7,786.0 1231.2,778.0 1235.7,770.2 1240.2,764.1 1244.7,759.6 1250.7,773.7 1255.2,779.1 1259.7,770.9 1264.2,767.9 1268.7,788.6 1273.2,823.9 1277.7,850.2 1282.2,842.0 1288.2,833.5 1292.7,836.8 1297.2,830.6 1301.7,833.6 1306.2,842.8 1310.7,865.0 1315.2,865.1 1319.7,859.3 1325.7,816.9 1330.2,769.9 1334.7,759.7 1339.2,748.1 1343.7,745.5 1348.2,761.6 1352.7,775.7 1357.2,793.8 1361.7,815.9 1367.7,852.7 1372.2,877.3 1376.7,854.6 1381.2,832.9 1385.7,820.5 1390.2,805.9 1394.7,802.4 1399.2,807.1 1405.2,787.9 1409.7,811.5 1414.2,836.3 1418.7,859.5 1423.2,870.8 1427.7,877.8 1432.2,876.7 1436.7,873.2 1442.7,871.5 1447.2,854.5 1451.7,852.5" fill="none" stroke="#f000f0" stroke-width="1.3" stroke-linejoin="round" />
<polyline points="4.2,800.2 8.7,798.1 13.2,798.2 17.7,803.7 23.7,813.2 28.2,822.0 32.7,830.0 37.2,837.1 41.7,842.1 46.2,844.6 50.7,846.2 55.2,844.9 61.2,841.5 65.7,837.2 70.2,828.8 74.7,818.5 79.2,807.6 83.7,798.4 88.2,791.0 92.7,784.3 98.7,780.9 103.2,777.7 107.7,775.3 112.2,774.4 116.7,773.8 121.2,772.4 125.7,771.7 130.2,772.8 134.7,776.8 140.7,781.7 145.2,789.0 149.7,794.9 154.2,797.6 158.7,802.1 163.2,809.1 167.7,818.2 172.2,822.8 178.2,820.2 182.7,814.9 187.2,808.8 191.7,800.8 196.2,794.1 200.7,789.8 205.2,788.6 209.7,789.6 215.7,794.6 220.2,801.7 224.7,810.3 229.2,819.0 233.7,825.3 238.2,832.5 242.7,834.1 247.2,831.5 253.2,831.1 257.7,832.7 262.2,829.7 266.7,824.2 271.2,821.0 275.7,817.7 280.2,813.9 284.7,807.6 290.7,801.2 295.2,794.5 299.7,787.8 304.2,782.5 308.7,777.8 313.2,777.5 317.7,780.0 322.2,781.2 328.2,784.3 332.7,791.5 337.2,798.4 341.7,799.2 346.2,795.2 350.7,794.9 355.2,798.0 359.7,806.3 364.2,815.5 370.2,824.2 374.7,831.5 379.2,837.5 383.7,842.5 388.2,846.0 392.7,846.1 397.2,844.4 401.7,842.3 407.7,842.4 412.2,844.3 416.7,842.6 421.2,843.4 425.7,845.4 430.2,848.2 434.7,850.9 439.2,852.2 445.2,853.8 449.7,853.8 454.2,852.9 458.7,851.1 463.2,849.6 467.7,847.7 472.2,842.9 476.7,834.6 482.7,823.6 487.2,817.3 491.7,815.9 496.2,818.7 500.7,817.7 505.2,814.0 509.7,812.2 514.2,806.8 520.2,799.9 524.7,793.6 529.2,788.0 533.7,784.9 538.2,786.8 542.7,787.7 547.2,787.3 551.7,786.2 556.2,785.3 562.2,788.6 566.7,795.7 571.2,806.1 575.7,816.3 580.2,825.2 584.7,832.8 589.2,839.7 593.7,845.4 599.7,848.0 604.2,850.0 608.7,848.4 613.2,843.4 617.7,835.9 622.2,826.7 626.7,821.9 631.2,821.6 637.2,826.2 641.7,829.9 646.2,831.0 650.7,832.1 655.2,832.1 659.7,831.5 664.2,827.2 668.7,819.3 674.7,812.2 679.2,808.1 683.7,812.3 688.2,816.3 692.7,818.6 697.2,822.7 701.7,828.8 706.2,835.0 712.2,840.9 716.7,845.3 721.2,849.0 725.7,850.2 730.2,852.4 734.7,854.7 739.2,854.3 743.7,850.5 748.2,843.6 754.2,831.8 758.7,820.5 763.2,810.7 767.7,804.1 772.2,799.4 776.7,803.6 781.2,811.1 785.7,819.3 791.7,827.4 796.2,833.5 800.7,838.7 805.2,843.6 809.7,847.0 814.2,850.4 818.7,849.3 823.2,842.6 829.2,833.1 833.7,824.8 838.2,818.6 842.7,815.0 847.2,813.7 851.7,812.9 856.2,811.1 860.7,808.9 866.7,802.9 871.2,797.4 875.7,792.8 880.2,789.2 884.7,787.5 889.2,787.1 893.7,784.6 898.2,781.9 904.2,779.9 908.7,777.4 913.2,775.9 917.7,776.5 922.2,781.7 926.7,788.3 931.2,796.0 935.7,806.2 941.7,816.5 946.2,824.2 950.7,828.5 955.2,832.4 959.7,833.5 964.2,827.5 968.7,818.1 973.2,808.8 977.7,804.7 983.7,805.5 988.2,809.2 992.7,812.8 997.2,816.0 1001.7,819.7 1006.2,826.2 1010.7,832.1 1015.2,837.6 1021.2,842.5 1025.7,845.9 1030.2,848.5 1034.7,848.7 1039.2,848.0 1043.7,847.7 1048.2,848.6 1052.7,848.7 1058.7,850.7 1063.2,851.7 1067.7,847.8 1072.2,839.1 1076.7,830.0 1081.2,821.4 1085.7,814.4 1090.2,808.6 1096.2,805.8 1100.7,802.5 1105.2,799.4 1109.7,801.8 1114.2,802.7 1118.7,801.0 1123.2,803.2 1127.7,808.1 1133.7,809.9 1138.2,810.6 1142.7,812.3 1147.2,817.0 1151.7,824.0 1156.2,830.5 1160.7,828.4 1165.2,820.5 1169.7,810.9 1175.7,801.5 1180.2,793.4 1184.7,787.4 1189.2,782.0 1193.7,778.4 1198.2,776.1 1202.7,775.6 1207.2,774.3 1213.2,772.4 1217.7,772.3 1222.2,774.2 1226.7,775.9 1231.2,776.2 1235.7,775.3 1240.2,773.7 1244.7,771.7 1250.7,772.0 1255.2,773.0 1259.7,772.7 1264.2,772.0 1268.7,774.4 1273.2,781.5 1277.7,791.3 1282.2,798.5 1288.2,803.5 1292.7,808.3 1297.2,811.5 1301.7,814.6 1306.2,818.7 1310.7,825.3 1315.2,831.0 1319.7,835.0 1325.7,832.4 1330.2,823.5 1334.7,814.4 1339.2,804.9 1343.7,796.4 1348.2,791.5 1352.7,789.2 1357.2,789.9 1361.7,793.6 1367.7,802.0 1372.2,812.8 1376.7,818.8 1381.2,820.8 1385.7,820.7 1390.2,818.6 1394.7,816.3 1399.2,815.0 1405.2,811.1 1409.7,811.2 1414.2,814.8 1418.7,821.2 1423.2,828.3 1427.7,835.3 1432.2,841.2 1436.7,845.8 1442.7,849.5 1447.2,850.2 1451.7,850.5" fill="none" stroke="#f0f000" stroke-width="1.3" stroke-linejoin="round" />
<polyline points="4.2,792.8 8.7,793.9 13.2,798.5 17.7,814.6 23.7,832.1 28.2,839.7 32.7,846.0 37.2,851.2 41.7,852.0 46.2,849.6 50.7,849.6 55.2,842.2 61.2,834.6 65.7,828.6 70.2,812.1 74.7,797.9 79.2,785.8 83.7,780.0 88.2,776.1 92.7,770.9 98.7,774.1 103.2,771.2 107.7,770.6 112.2,772.6 116.7,772.5 121.2,769.8 125.7,770.3 130.2,775.0 134.7,784.8 140.7,791.4 145.2,803.7 149.7,806.7 154.2,802.9 158.7,811.1 163.2,823.1 167.7,836.3 172.2,832.0 178.2,814.9 182.7,804.3 187.2,796.8 191.7,784.9 196.2,780.6 200.7,781.1 205.2,786.4 209.7,791.4 215.7,804.7 220.2,815.9 224.7,827.5 229.2,836.5 233.7,837.8 238.2,847.0 242.7,837.2 247.2,826.2 253.2,830.4 257.7,835.8 262.2,823.7 266.7,813.4 271.2,814.6 275.7,811.1 280.2,806.5 284.7,795.0 290.7,788.3 295.2,781.1 299.7,774.3 304.2,771.9 308.7,768.5 313.2,776.9 317.7,785.1 322.2,783.5 328.2,790.5 332.7,805.8 337.2,812.1 341.7,800.8 346.2,787.4 350.7,794.1 355.2,804.2 359.7,822.9 364.2,834.0 370.2,841.5 374.7,846.2 379.2,849.3 383.7,852.5 388.2,853.1 392.7,846.3 397.2,841.1 401.7,838.0 407.7,842.7 412.2,848.2 416.7,839.1 421.2,845.1 425.7,849.4 430.2,853.9 434.7,856.2 439.2,854.7 445.2,856.9 449.7,853.8 454.2,851.1 458.7,847.5 463.2,846.5 467.7,844.1 472.2,833.3 476.7,817.9 482.7,801.6 487.2,804.8 491.7,812.9 496.2,824.4 500.7,815.7 505.2,806.6 509.7,808.6 514.2,796.1 520.2,786.1 524.7,780.8 529.2,777.0 533.7,778.6 538.2,790.5 542.7,789.7 547.2,786.5 551.7,783.8 556.2,783.5 562.2,795.2 566.7,809.9 571.2,827.0 575.7,836.7 580.2,843.0 584.7,848.0 589.2,853.6 593.7,856.7 599.7,853.1 604.2,854.0 608.7,845.3 613.2,833.2 617.7,821.1 622.2,808.3 626.7,812.4 631.2,821.0 637.2,835.3 641.7,837.2 646.2,833.4 650.7,834.4 655.2,831.9 659.7,830.4 664.2,818.5 668.7,803.4 674.7,798.0 679.2,799.9 683.7,820.7 688.2,824.4 692.7,823.0 697.2,830.9 701.7,841.1 706.2,847.3 712.2,852.8 716.7,854.1 721.2,856.3 725.7,852.5 730.2,856.9 734.7,859.4 739.2,853.5 743.7,842.8 748.2,830.0 754.2,808.1 758.7,798.0 763.2,791.1 767.7,790.8 772.2,790.0 776.7,811.9 781.2,826.3 785.7,835.6 791.7,843.7 796.2,845.5 800.7,849.1 805.2,853.6 809.7,853.7 814.2,857.1 818.7,847.2 823.2,829.1 829.2,814.2 833.7,808.1 838.2,806.4 842.7,807.8 847.2,811.0 851.7,811.2 856.2,807.6 860.7,804.4 866.7,791.1 871.2,786.4 875.7,783.4 880.2,782.1 884.7,784.1 889.2,786.4 893.7,779.7 898.2,776.4 904.2,776.0 908.7,772.4 913.2,772.9 917.7,777.5 922.2,792.1 926.7,801.5 931.2,811.5 935.7,826.6 941.7,837.1 946.2,839.4 950.7,837.2 955.2,840.2 959.7,835.6 964.2,815.7 968.7,799.3 973.2,790.2 977.7,796.4 983.7,807.3 988.2,816.6 992.7,819.8 997.2,822.4 1001.7,827.3 1006.2,839.1 1010.7,844.0 1015.2,848.5 1021.2,852.3 1025.7,852.8 1030.2,853.8 1034.7,849.0 1039.2,846.6 1043.7,847.0 1048.2,850.4 1052.7,849.1 1058.7,854.7 1063.2,853.5 1067.7,840.1 1072.2,821.8 1076.7,811.8 1081.2,804.2 1085.7,800.2 1090.2,797.0 1096.2,800.3 1100.7,795.9 1105.2,793.1 1109.7,806.6 1114.2,804.5 1118.7,797.6 1123.2,807.5 1127.7,818.0 1133.7,813.4 1138.2,812.0 1142.7,815.8 1147.2,826.5 1151.7,837.9 1156.2,843.6 1160.7,824.0 1165.2,804.8 1169.7,791.7 1175.7,782.6 1180.2,777.4 1184.7,775.3 1189.2,771.1 1193.7,771.4 1198.2,771.4 1202.7,774.6 1207.2,771.7 1213.2,768.6 1217.7,772.2 1222.2,777.8 1226.7,779.2 1231.2,776.8 1235.7,773.6 1240.2,770.5 1244.7,767.7 1250.7,772.6 1255.2,775.1 1259.7,772.1 1264.2,770.7 1268.7,779.1 1273.2,795.6 1277.7,810.9 1282.2,813.0 1288.2,813.5 1292.7,817.8 1297.2,817.8 1301.7,821.0 1306.2,826.7 1310.7,838.5 1315.2,842.4 1319.7,843.1 1325.7,827.3 1330.2,805.6 1334.7,796.2 1339.2,786.0 1343.7,779.4 1348.2,781.5 1352.7,784.7 1357.2,791.2 1361.7,801.0 1367.7,818.9 1372.2,834.3 1376.7,830.7 1381.2,824.8 1385.7,820.6 1390.2,814.4 1394.7,811.7 1399.2,812.3 1405.2,803.4 1409.7,811.3 1414.2,822.0 1418.7,834.0 1423.2,842.4 1427.7,849.5 1432.2,853.0 1436.7,854.9 1442.7,856.8 1447.2,851.6 1451.7,851.2" fill="none" stroke="#ececec" stroke-width="1.3" stroke-linejoin="round" />
<rect x="1469" y="11" width="19" height="878" fill="#000"/>
<line x1="1468.2" y1="11" x2="1468.2" y2="889" stroke="#b00000" stroke-width="1.8"/>
<line x1="1468" y1="53.5" x2="1476.5" y2="53.5" stroke="#b00000" stroke-width="1.6"/>
<line x1="1468" y1="85.5" x2="1472.5" y2="85.5" stroke="#b00000" stroke-width="1.6"/>
<line x1="1468" y1="117.5" x2="1476.5" y2="117.5" stroke="#b00000" stroke-width="1.6"/>
<line x1="1468" y1="149.5" x2="1472.5" y2="149.5" stroke="#b00000" stroke-width="1.6"/>
<line x1="1468" y1="181.5" x2="1476.5" y2="181.5" stroke="#b00000" stroke-width="1.6"/>
<line x1="1468" y1="213.5" x2="1472.5" y2="213.5" stroke="#b00000" stroke-width="1.6"/>
<line x1="1468" y1="245.5" x2="1476.5" y2="245.5" stroke="#b00000" stroke-width="1.6"/>
<line x1="1468" y1="277.5" x2="1472.5" y2="277.5" stroke="#b00000" stroke-width="1.6"/>
<line x1="1468" y1="309.5" x2="1476.5" y2="309.5" stroke="#b00000" stroke-width="1.6"/>
<line x1="1468" y1="341.5" x2="1472.5" y2="341.5" stroke="#b00000" stroke-width="1.6"/>
<line x1="1468" y1="373.5" x2="1476.5" y2="373.5" stroke="#b00000" stroke-width="1.6"/>
<line x1="1468" y1="405.5" x2="1472.5" y2="405.5" stroke="#b00000" stroke-width="1.6"/>
<line x1="1468" y1="437.5" x2="1476.5" y2="437.5" stroke="#b00000" stroke-width="1.6"/>
<line x1="1468" y1="469.5" x2="1472.5" y2="469.5" stroke="#b00000" stroke-width="1.6"/>
<line x1="1468" y1="501.5" x2="1476.5" y2="501.5" stroke="#b00000" stroke-width="1.6"/>
<line x1="1468" y1="589.8" x2="1476.5" y2="589.8" stroke="#b00000" stroke-width="1.6"/>
<line x1="1468" y1="630.2" x2="1476.5" y2="630.2" stroke="#b00000" stroke-width="1.6"/>
<line x1="1468" y1="670.6" x2="1476.5" y2="670.6" stroke="#b00000" stroke-width="1.6"/>
<line x1="1468" y1="610.2" x2="1472.5" y2="610.2" stroke="#b00000" stroke-width="1.6"/>
<line x1="1468" y1="650.9" x2="1472.5" y2="650.9" stroke="#b00000" stroke-width="1.6"/>
<line x1="1468" y1="692" x2="1488" y2="692" stroke="#b00000" stroke-width="1.6"/>
<text x="1470" y="710" fill="#e03030" font-family="Liberation Sans, sans-serif" font-size="18" textLength="20" lengthAdjust="spacingAndGlyphs">X1</text>
<line x1="1469" y1="715" x2="1469" y2="889" stroke="#c00000" stroke-width="3.2"/>
<line x1="1468" y1="715" x2="1488" y2="715" stroke="#b00000" stroke-width="3"/>
<line x1="1485.8" y1="758.4" x2="1488" y2="755.6" stroke="#d03030" stroke-width="1.2"/>
<polygon points="1435.7,17 1443.5,25 1435.7,33 1428,25" fill="none" stroke="#b00000" stroke-width="1.5"/>
<rect x="1450" y="17.5" width="14.5" height="15.5" fill="none" stroke="#b00000" stroke-width="1.5"/><line x1="1459.8" y1="17.5" x2="1459.8" y2="33" stroke="#b00000" stroke-width="1.5"/>
<text x="3.2" y="30" fill="#c8c8c8" font-family="Liberation Sans, Noto Sans CJK SC, sans-serif" font-size="18" textLength="177.5" lengthAdjust="spacingAndGlyphs">创业板指(日线.前复权)</text>
<polygon points="196.6,17.5 200,17.5 206.3,23.3 206.3,25.3 201.3,25.3 201.3,31.6 195.3,31.6 195.3,25.3 190.3,25.3 190.3,23.3" fill="#ff0000"/>
<text x="212" y="30" fill="#ffffff" font-family="Liberation Sans, Noto Sans CJK SC, sans-serif" font-size="17.5" textLength="108.2" lengthAdjust="spacingAndGlyphs">MA5: 1498.49</text>
<text x="330.5" y="30" fill="#ffff00" font-family="Liberation Sans, Noto Sans CJK SC, sans-serif" font-size="17.5" textLength="118.6" lengthAdjust="spacingAndGlyphs">MA10: 1555.45</text>
<text x="459.4" y="30" fill="#ff00ff" font-family="Liberation Sans, Noto Sans CJK SC, sans-serif" font-size="17.5" textLength="119.5" lengthAdjust="spacingAndGlyphs">MA20: 1627.19</text>
<text x="588.3" y="30" fill="#00ff00" font-family="Liberation Sans, Noto Sans CJK SC, sans-serif" font-size="17.5" textLength="129.9" lengthAdjust="spacingAndGlyphs">MA250: 1497.53</text>
<text x="2.8" y="557" fill="#ffffff" font-family="Liberation Sans, Noto Sans CJK SC, sans-serif" font-size="17.5" textLength="190.1" lengthAdjust="spacingAndGlyphs">VOLUME: 68284176.00</text>
<text x="203.2" y="557" fill="#ffffff" font-family="Liberation Sans, Noto Sans CJK SC, sans-serif" font-size="17.5" textLength="149.6" lengthAdjust="spacingAndGlyphs">MA5: 72014272.00</text>
<text x="363.1" y="557" fill="#ffff00" font-family="Liberation Sans, Noto Sans CJK SC, sans-serif" font-size="17.5" textLength="160.9" lengthAdjust="spacingAndGlyphs">MA10: 78376488.00</text>
<text x="3.2" y="732.3" fill="#c8c8c8" font-family="Liberation Sans, Noto Sans CJK SC, sans-serif" font-size="17.5" textLength="85" lengthAdjust="spacingAndGlyphs">KDJ(9,3,3)</text>
<text x="97.8" y="732.3" fill="#ffffff" font-family="Liberation Sans, Noto Sans CJK SC, sans-serif" font-size="17.5" textLength="64.6" lengthAdjust="spacingAndGlyphs">K: 16.04</text>
<text x="173.1" y="732.3" fill="#ffff00" font-family="Liberation Sans, Noto Sans CJK SC, sans-serif" font-size="17.5" textLength="65.6" lengthAdjust="spacingAndGlyphs">D: 16.25</text>
<text x="247.3" y="732.3" fill="#ff00ff" font-family="Liberation Sans, Noto Sans CJK SC, sans-serif" font-size="17.5" textLength="64.5" lengthAdjust="spacingAndGlyphs">J: 15.63</text>
</svg>
</body></html>
